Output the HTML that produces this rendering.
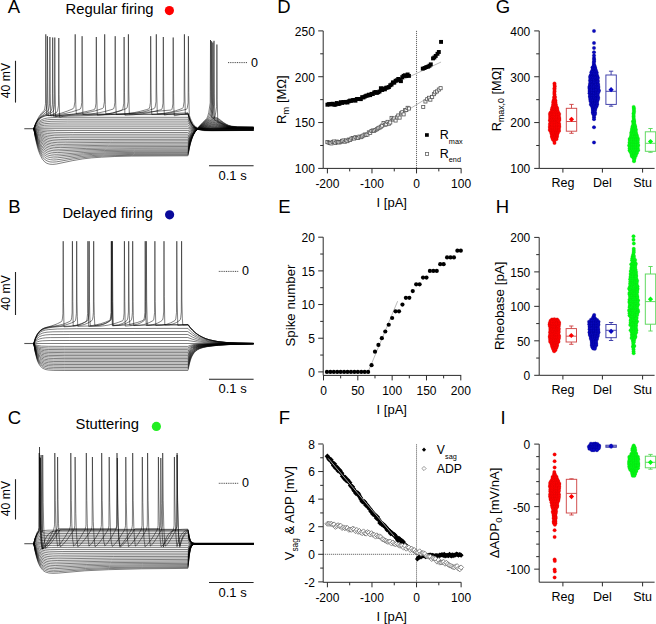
<!DOCTYPE html>
<html><head><meta charset="utf-8"><style>
html,body{margin:0;padding:0;background:#fff;overflow:hidden;}
svg{display:block;font-family:"Liberation Sans", sans-serif;}
</style></head><body>
<svg width="656" height="624" viewBox="0 0 656 624">
<rect width="656" height="624" fill="#fff"/>
<text x="7.8" y="12.8" font-size="18.5" text-anchor="start" fill="#000" >A</text>
<text x="8.25" y="212.6" font-size="18.5" text-anchor="start" fill="#000" >B</text>
<text x="7.8" y="424" font-size="18.5" text-anchor="start" fill="#000" >C</text>
<text x="277.3" y="12.8" font-size="18.5" text-anchor="start" fill="#000" >D</text>
<text x="278.3" y="212.6" font-size="18.5" text-anchor="start" fill="#000" >E</text>
<text x="278.8" y="424" font-size="18.5" text-anchor="start" fill="#000" >F</text>
<text x="495.7" y="12.8" font-size="18.5" text-anchor="start" fill="#000" >G</text>
<text x="495.8" y="212.6" font-size="18.5" text-anchor="start" fill="#000" >H</text>
<text x="500.4" y="424" font-size="18.5" text-anchor="start" fill="#000" >I</text>
<text x="65.6" y="13.7" font-size="14.8" text-anchor="start" fill="#000" >Regular firing</text>
<circle cx="169.4" cy="10.6" r="4.6" fill="#ff0000"/>
<text x="62.4" y="218.4" font-size="14.8" text-anchor="start" fill="#000" >Delayed firing</text>
<circle cx="169.6" cy="214.8" r="4.6" fill="#0a0a9a"/>
<text x="75.6" y="429.2" font-size="14.8" text-anchor="start" fill="#000" >Stuttering</text>
<circle cx="156.4" cy="426.4" r="4.6" fill="#22ee22"/>
<line x1="24.3" y1="128.7" x2="33.8" y2="128.7" stroke="#555" stroke-width="1.1" />
<path d="M33.8 128.7L253.6 128.7" stroke="#000" stroke-width="0.5" fill="none"/>
<path d="M33.8 128.7L37.5 129.5L42 130L55.3 130.5L187.8 130.6L190.6 129.8L193.3 129.3L202.3 128.7L213.6 128.5L253.6 128.7" stroke="#000" stroke-width="0.5" fill="none"/>
<path d="M33.8 128.7L37.3 130.2L41.8 131.3L47.3 131.9L55 132.3L73.8 132.5L187.8 132.5L190.8 130.7L193.8 129.6L197.8 129L203.6 128.5L213.8 128.2L230.1 128.6L253.6 128.6" stroke="#000" stroke-width="0.5" fill="none"/>
<path d="M33.8 128.7L37.3 130.9L39.5 131.9L41.8 132.6L47.3 133.5L55 134.1L72.3 134.3L187.8 134.2L190.8 131.6L192.3 130.7L194.1 130L198.3 129L204.8 128.2L213.8 127.8L230.1 128.5L253.6 128.6" stroke="#000" stroke-width="0.5" fill="none"/>
<path d="M33.8 128.7L35.5 130.4L37.3 131.7L39.5 132.9L41.8 133.8L44.3 134.6L47.3 135.1L54.8 135.8L70.8 136L187.8 136L188.1 135.9L189.3 134.1L190.8 132.5L192.3 131.3L194.1 130.4L196.1 129.6L198.6 128.9L205.8 127.8L210.1 127.4L214.1 127.4L230.1 128.4L253.6 128.5" stroke="#000" stroke-width="0.5" fill="none"/>
<path d="M33.8 128.7L35.5 130.8L37.3 132.4L39.5 134L41.8 135.1L44.3 136L47.3 136.7L54.5 137.5L69.3 137.8L187.8 137.7L188.1 137.5L189.3 135.3L190.8 133.3L192.6 131.7L194.3 130.6L196.6 129.6L199.1 128.8L206.6 127.4L210.6 126.9L214.1 126.9L230.1 128.3L253.6 128.5" stroke="#000" stroke-width="0.5" fill="none"/>
<path d="M33.8 128.7L36 131.8L38.8 134.5L41.8 136.4L45.3 137.7L49.3 138.6L54 139.1L60.3 139.4L69.8 139.5L187.8 139.3L188.1 139.1L189.3 136.5L190.8 134.2L192.6 132.2L194.3 130.9L196.6 129.7L199.3 128.7L203.1 127.7L207.3 126.8L211.1 126.4L214.3 126.3L217.6 126.6L225.6 127.8L230.1 128.2L253.6 128.4" stroke="#000" stroke-width="0.5" fill="none"/>
<path d="M33.8 128.7L36 132.4L38.5 135.2L41.5 137.5L44.8 139L48.5 140.1L53 140.7L58.8 141L67.3 141.1L112.3 140.9L187.8 140.8L188.1 140.7L189.8 136.7L191.1 134.6L192.8 132.5L194.6 131L196.8 129.6L199.6 128.5L203.6 127.3L207.6 126.3L211.1 125.8L214.3 125.8L217.6 126.1L225.6 127.6L230.1 128L236.6 128.2L253.6 128.3" stroke="#000" stroke-width="0.5" fill="none"/>
<path d="M33.8 128.7L36 132.9L38.3 135.9L41 138.4L44.3 140.3L47.8 141.5L52.3 142.3L57.8 142.7L65.3 142.8L110.8 142.4L187.8 142.3L188.1 142.1L189.8 137.6L191.1 135.3L192.8 132.9L194.6 131.2L196.8 129.7L199.6 128.4L203.8 126.9L208.1 125.7L211.6 125.2L215.1 125.2L217.8 125.6L226.1 127.4L231.6 128L253.6 128.2" stroke="#000" stroke-width="0.5" fill="none"/>
<path d="M33.8 128.7L36 133.4L38.3 136.8L41 139.7L44 141.6L47.5 143L51.5 143.8L56.8 144.3L63.8 144.4L109.3 143.9L187.8 143.8L188.1 143.6L189.8 138.5L191.1 136L192.8 133.3L194.6 131.4L196.8 129.7L199.8 128.1L204.3 126.3L208.3 125.1L211.8 124.5L215.3 124.6L218.1 125.1L225.6 127.1L231.6 127.9L237.6 128.1L253.6 128.2" stroke="#000" stroke-width="0.5" fill="none"/>
<path d="M33.8 128.7L35.8 133.5L38 137.4L40.5 140.4L43.5 142.8L46.8 144.3L50.8 145.3L55.5 145.9L62.3 146L108.3 145.3L187.8 145.2L188.1 144.9L189.8 139.4L191.1 136.6L192.8 133.7L194.6 131.6L196.8 129.7L199.8 128L204.6 125.8L208.6 124.4L212.1 123.8L215.3 124L218.1 124.6L225.6 126.8L228.6 127.4L231.6 127.7L237.6 128L253.6 128.1" stroke="#000" stroke-width="0.5" fill="none"/>
<path d="M33.8 128.7L35.8 134L38 138.4L40.5 141.7L43.3 144.1L46.3 145.7L50 146.9L54.5 147.4L60.8 147.6L87.8 146.9L107.3 146.7L187.8 146.5L188.1 146.2L189.8 140.3L191.1 137.2L192.8 134L194.6 131.8L197.1 129.5L200.1 127.6L204.8 125.3L208.8 123.8L212.1 123.1L215.3 123.3L218.1 124L225.6 126.5L228.6 127.2L231.6 127.6L237.6 127.9L253.6 128" stroke="#000" stroke-width="0.5" fill="none"/>
<path d="M33.8 128.7L35.8 134.6L37.8 138.9L40 142.3L42.8 145.2L45.8 147.1L49.3 148.3L53.5 149L59.3 149.3L86.8 148.4L106.3 148L187.8 147.8L188.1 147.5L189.8 141.1L191.1 137.8L192.8 134.4L194.6 132L197.1 129.5L200.1 127.4L205.1 124.7L209.1 123L212.3 122.4L215.3 122.6L218.1 123.3L225.6 126.3L228.1 126.9L231.1 127.4L237.6 127.8L253.6 127.9" stroke="#000" stroke-width="0.5" fill="none"/>
<path d="M33.8 128.7L35.8 135.1L37.8 139.8L40 143.6L42.5 146.5L45.5 148.6L48.8 149.9L53 150.7L58.3 150.9L85.8 149.7L105.3 149.3L134.8 149L187.8 149L188.1 148.7L189.8 141.9L191.1 138.3L192.8 134.7L194.6 132.1L197.1 129.5L200.3 127L205.3 124L209.3 122.3L212.6 121.6L215.6 121.9L218.1 122.7L225.6 126L228.1 126.7L231.1 127.2L237.6 127.6L253.6 127.8" stroke="#000" stroke-width="0.5" fill="none"/>
<path d="M33.8 128.7L35.5 134.9L37.5 140.3L39.8 144.5L42.3 147.7L45 150L48.3 151.5L52.3 152.3L57.3 152.6L84.8 151.1L104.3 150.5L134.3 150.2L187.8 150.1L188.1 149.8L189.8 142.6L191.1 138.8L192.8 135L194.8 131.9L197.3 129.2L200.8 126.4L205.8 123.2L209.6 121.5L212.6 120.8L214.1 120.9L215.6 121.1L218.1 122.1L225.6 125.7L228.1 126.5L231.1 127.1L237.6 127.5L253.6 127.7" stroke="#000" stroke-width="0.5" fill="none"/>
<path d="M33.8 128.7L35.5 135.5L37.5 141.3L39.5 145.4L42 149L44.8 151.5L47.8 153.1L51.5 154L56.3 154.3L61.8 154.1L83.8 152.5L103.8 151.7L133.8 151.3L187.8 151.2L188.1 150.9L189.8 143.3L191.1 139.3L192.8 135.3L194.6 132.3L197.1 129.3L200.6 126.3L205.8 122.6L209.6 120.7L212.6 120L214.1 120.1L215.6 120.4L218.1 121.4L225.6 125.4L228.1 126.3L231.1 126.9L237.6 127.4L253.6 127.6" stroke="#000" stroke-width="0.5" fill="none"/>
<path d="M33.8 128.7L35.3 135.1L36.8 140.2L38.5 144.8L40.5 148.6L42.5 151.3L45 153.5L47.8 155L51 155.8L54.3 156.1L58 156L83.3 153.8L105.3 152.8L134.8 152.4L187.8 152.3L188.1 151.9L189.8 143.9L191.3 139.1L193.1 135L195.3 131.4L197.1 129.3L199.1 127.3L205.6 122.2L209.3 120.1L211.1 119.5L212.8 119.2L213.6 118.8L214.3 117.7L215.1 115.7L215.8 112.2L216.6 106.5L216.9 44.5L217.2 99.8L217.8 122L220.1 122.8L226.1 125.5L228.6 126.3L231.1 126.8L237.1 127.3L253.6 127.5" stroke="#000" stroke-width="0.5" fill="none"/>
<path d="M33.8 128.7L35.3 135.7L36.8 141.2L38.5 146.1L40.5 150.2L42.5 153.1L45 155.4L47.8 156.9L50.8 157.7L53.8 158L57.5 157.8L82.3 155.1L92.8 154.4L104.3 153.9L134.3 153.4L187.8 153.2L188.1 152.8L189.8 144.5L191.1 140.2L192.6 136.3L194.6 132.5L197.3 128.9L201.1 125.3L206.1 121.2L210.3 118.6L211.3 117.1L212.3 113.8L213.7 104.9L214 40.8L214.3 93.1L214.8 120.4L216.3 120.4L217.8 120.8L226.1 125.2L228.6 126.1L231.1 126.6L237.1 127.2L253.6 127.4" stroke="#000" stroke-width="0.5" fill="none"/>
<path d="M33.8 128.7L35.3 136.3L36.8 142.2L38.5 147.5L40.5 151.9L42.5 155L44.8 157.3L47.5 158.9L50.5 159.7L53.3 160L56.8 159.8L81.3 156.5L91.8 155.6L103.3 155L133.3 154.4L187.8 154.2L188.1 153.7L189.3 147.2L190.8 141.4L192.6 136.5L194.3 133L196.6 129.7L199.6 126.4L204.6 121.8L209.1 118.4L210.1 116.7L211.1 113.3L211.8 109.3L212.5 104L212.8 42.5L213.2 97.5L213.3 106.6L213.8 119.5L215.6 119.3L217.6 119.9L226.1 124.8L228.6 125.8L231.1 126.4L237.1 127L253.6 127.3" stroke="#000" stroke-width="0.5" fill="none"/>
<path d="M33.8 128.7L35.3 136.9L36.8 143.4L38.5 149.1L40.3 153.3L42.3 156.7L44.5 159.3L47 160.9L50 161.9L52.8 162.1L56.3 161.9L72.8 159L80.8 157.9L90.8 156.8L102.3 156.1L115.8 155.6L132.8 155.3L187.8 155L188.1 154.6L189.3 147.8L190.8 141.8L192.3 137.3L193.8 134L195.8 130.6L198.6 127.2L203.1 122.6L207.8 118.4L209.1 115.8L210.1 111.9L211.3 103.4L211.6 41.2L211.9 96.6L212.6 118.8L213.6 118.4L214.8 118.2L217.1 118.7L219.1 119.8L223.6 123L226.1 124.5L228.6 125.6L231.1 126.3L233.6 126.6L237.1 126.9L253.6 127.1" stroke="#000" stroke-width="0.5" fill="none"/>
<path d="M33.8 128.7L35.3 137.7L36.8 144.6L38.5 150.8L40.3 155.3L42.3 159L44.5 161.7L47 163.4L49.8 164.2L52.8 164.4L56.5 164L72.8 160.6L82.8 158.9L91.3 157.9L101.3 157.2L114.8 156.5L131.8 156.1L187.8 155.8L188.1 155.4L189.3 148.4L190.6 143.1L192.1 138.2L193.6 134.6L195.6 130.9L197.8 127.8L201.1 124.2L206.8 118.4L207.8 116.1L208.8 112.3L210.2 102.9L210.5 40L210.8 91.5L211.3 118.4L212.6 117.6L213.8 117.2L215.1 117.2L216.3 117.5L218.6 118.7L223.6 122.5L226.1 124.1L228.6 125.3L231.6 126.2L237.6 126.8L253.6 127" stroke="#000" stroke-width="0.5" fill="none"/>
<path d="M33.8 128.7L36.5 127.9L40 127.3L44.5 127L51 126.9L187.8 126.8L190.3 127.7L192.8 128.2L200.1 128.8L253.6 128.9" stroke="#000" stroke-width="0.5" fill="none"/>
<path d="M33.8 128.7L36.5 127.1L40 126L44.5 125.3L51 125L187.8 124.9L190.3 126.6L192.8 127.7L196.1 128.5L200.1 128.9L211.1 129.1L253.6 129.1" stroke="#000" stroke-width="0.5" fill="none"/>
<path d="M33.8 128.7L35 127.4L36.5 126.3L38.3 125.3L40 124.6L44.5 123.7L51 123.2L67.8 123L187.8 123L188.1 123.1L190.3 125.6L192.8 127.3L196.1 128.4L200.1 129L211.1 129.3L253.6 129.2" stroke="#000" stroke-width="0.5" fill="none"/>
<path d="M33.8 128.7L35 127L36.5 125.5L38.3 124.2L40 123.3L42 122.6L44.5 122L51 121.3L67.8 121.1L187.8 121.1L188.1 121.2L190.3 124.6L192.8 126.8L194.3 127.6L196.1 128.3L200.1 129.1L204.6 129.4L211.1 129.6L253.6 129.4" stroke="#000" stroke-width="0.5" fill="none"/>
<path d="M33.8 128.7L35 126.6L36.5 124.7L38.3 123.1L40 121.9L42 121L44.5 120.3L47.5 119.8L51 119.5L67.8 119.2L187.8 119.2L188.1 119.3L189.1 121.5L190.3 123.5L191.6 125.1L192.8 126.3L194.3 127.3L196.1 128.2L200.1 129.2L204.6 129.6L211.1 129.8L253.6 129.6" stroke="#000" stroke-width="0.5" fill="none"/>
<path d="M33.8 128.7L35 126.2L36.5 123.9L38.3 121.9L40 120.6L42 119.5L44.5 118.6L47.5 118L51 117.7L57.3 117.4L67.8 117.3L187.8 117.3L188.1 117.4L189.1 120L190.3 122.5L191.6 124.4L192.8 125.8L194.3 127.1L196.1 128.1L197.8 128.7L200.1 129.3L204.6 129.8L211.1 130L253.6 129.8" stroke="#000" stroke-width="0.5" fill="none"/>
<path d="M33.8 128.7L35.8 123L38.5 117.4L40.8 114L43.9 110.7L44.3 110L44.8 108.3L45.3 105.2L45.5 103.5L45.8 34.3L46 82.2L46.6 115.5L50 115.3L53.8 114.8L57.8 114L61.8 113L67.3 111.1L72.9 108.8L73.7 108L74 107.2L74.9 101.8L75.2 34.3L75.5 91L75.8 104.5L76.3 113.8L83.8 113.2L92.3 111.6L97.3 110.2L102.4 108.5L103.2 107.9L103.5 107.1L104.4 101.8L104.7 34.3L105 91L105.3 104.5L105.8 113.8L108.8 113.6L112.3 113.1L119.3 111.3L126.3 108.6L126.9 108L127.3 106.9L128.1 101.8L128.4 34.3L128.8 91L129.3 113.8L136.3 113.3L144.3 111.7L149.3 110.2L154 108.6L154.8 107.9L155.1 107.2L156 101.8L156.3 34.3L156.7 91L157.3 113.8L163.3 113.4L169.3 112.4L175.8 110.7L182.3 108.5L182.9 107.9L183.3 106.8L184.1 101.8L184.4 34.3L184.8 91L185.3 113.8L187.8 113.2L188.1 113.3L189.2 117.6L190.3 120.7L191.6 123.4L192.8 125.4L194.8 127.6L197.3 129.1L200.1 130.1L203.8 130.6L212.1 130.8L253.6 130.4" stroke="#000" stroke-width="0.5" fill="none"/>
<path d="M33.8 128.7L35.5 123.8L37.3 120.3L41.3 114.8L43 112.9L45.5 110.7L46.2 109.3L46.7 106.9L47.1 103.7L47.4 36.2L47.8 92.9L48.2 115.7L52.2 115.5L56.5 115.1L65.8 113.4L71.8 111.9L78.3 109.8L80.2 109.1L80.8 108.1L81.3 106.2L81.8 102.5L82.1 36.2L82.5 92.1L82.9 114.5L90.8 114L99.3 112.7L104.8 111.5L110.8 109.8L113.3 109L113.8 108.3L114.3 106.6L114.9 102.5L115.2 36.2L115.5 92.1L115.8 105.3L116.3 114.5L124.8 114L134.3 112.6L140.3 111.3L146.3 109.7L148.8 108.9L149.3 108.3L149.8 106.6L150.4 102.5L150.7 36.2L151.1 92.1L151.3 105.3L151.8 114.5L159.8 114.1L168.8 113.1L177.8 111.4L186.5 109.3L186.9 108.9L187.3 107.8L188.1 102.9L188.4 36.2L188.8 92.4L189.3 115.3L191.1 120.1L193.1 123.8L195.3 126.4L197.8 128.1L201.1 129.4L205.3 130.1L210.1 130.4L217.1 130.5L253.6 130.3" stroke="#000" stroke-width="0.5" fill="none"/>
<path d="M33.8 128.7L35.8 123.4L38 119.5L40.3 117.1L44 113.9L48 110.9L48.5 110L49 108L49.6 103.9L49.9 37L50.2 93.3L50.7 115.9L61.3 115.4L73.3 114L80.3 112.8L87.8 111.2L94 109.7L94.8 109.1L95.4 107.3L96 103.2L96.3 37L96.7 92.8L97.3 115.2L104.3 114.6L112.3 113L116.8 111.7L121.8 110L122.3 109.7L122.9 108.6L123.8 103.2L124.1 37L124.5 92.8L124.9 115.2L133.3 114.8L142.8 113.7L152.3 111.9L161.4 109.6L161.8 109.2L162.3 107.7L163 103.2L163.3 37L163.7 92.8L163.8 102.1L164.3 115.1L168.8 114.2L173.8 113.6L179.8 113.1L187.8 112.9L188.1 113.1L189.3 117.5L190.6 120.7L191.8 123.2L193.3 125.4L195.1 127.1L196.8 128.3L199.1 129.3L201.8 129.9L206.1 130.4L212.3 130.5L253.6 130.2" stroke="#000" stroke-width="0.5" fill="none"/>
<path d="M33.8 128.7L36 123.2L37.3 121L38.8 119L40 117.8L41.5 116.6L46 114.2L50.5 111.5L51.3 110.5L51.8 108.6L52.4 104.3L52.7 37.5L53 93.7L53.5 116.3L80.8 115.8L110.3 114.6L141.8 112.6L171.3 110L171.8 109.5L172.3 107.9L172.9 103.9L173.2 37.5L173.6 93.4L173.8 106.7L174.3 115.8L180.3 114.6L187.8 113.9L188.1 114.1L189.3 118.3L190.6 121.4L191.8 123.7L193.1 125.4L194.8 127.2L196.6 128.3L198.6 129.2L201.1 129.8L205.3 130.3L211.3 130.5L253.6 130.2" stroke="#000" stroke-width="0.5" fill="none"/>
<path d="M33.8 128.7L35 125.4L36.3 122.9L37.8 120.6L39.3 118.9L40.8 117.6L42.5 116.6L48 114.4L52.5 112L53.3 111.2L53.8 109.6L54.5 104.7L54.8 37.5L55 84.3L55.6 116.7L59.8 115.7L64.8 114.9L71.3 114.5L79.3 114.2L101.8 114L187.8 114L188.1 114.2L189.1 117.5L190.3 120.7L191.6 123.2L192.8 125L194.3 126.6L196.1 127.9L197.8 128.7L200.1 129.4L204.6 130.1L211.1 130.4L253.6 130.1" stroke="#000" stroke-width="0.5" fill="none"/>
<path d="M33.8 128.7L35.3 125L36.8 122.3L38.5 120.1L40.3 118.4L42 117.3L44.3 116.3L46.8 115.6L50.8 115L53.8 113.9L56.8 112.3L57.6 110.8L58.5 105.2L58.8 38L59.1 94.5L59.6 117.2L63.8 116.2L68.8 115.5L75.3 115L83.3 114.8L105.3 114.6L187.8 114.6L188.1 114.8L189.1 118L190.3 121.1L191.6 123.4L192.8 125.1L194.3 126.7L196.1 127.9L197.8 128.7L200.1 129.4L204.6 130L211.1 130.3L253.6 130.1" stroke="#000" stroke-width="0.5" fill="none"/>
<line x1="24.3" y1="343.5" x2="33.8" y2="343.5" stroke="#555" stroke-width="1.1" />
<path d="M33.8 343.5L253.6 343.5" stroke="#000" stroke-width="0.5" fill="none"/>
<path d="M33.8 343.5L35.3 344.5L37 345.2L39 345.7L41.5 346.1L48.3 346.3L64.8 346.4L187.8 346.4L190.3 345.3L192.6 344.7L195.6 344.3L199.8 344.1L218.6 343.7L253.6 343.5" stroke="#000" stroke-width="0.5" fill="none"/>
<path d="M33.8 343.5L35.3 345.1L37 346.2L39 347L41.5 347.6L48.3 348L64.8 348.1L187.8 348.1L190.3 346.4L192.6 345.5L195.6 344.8L199.8 344.4L218.6 343.8L253.6 343.6" stroke="#000" stroke-width="0.5" fill="none"/>
<path d="M33.8 343.5L35.3 345.6L37 347.1L39 348.2L41.5 348.9L44.3 349.3L48.3 349.5L64.8 349.6L187.8 349.6L190.3 347.3L192.6 346.1L195.6 345.2L199.8 344.7L207.1 344.2L218.6 343.9L253.6 343.6" stroke="#000" stroke-width="0.5" fill="none"/>
<path d="M33.8 343.5L35.3 346.1L37 348L39 349.3L41.5 350.2L44.3 350.7L48.3 351L64.8 351.1L187.8 351.1L188.1 351L189.1 349.6L190.3 348.3L192.6 346.8L195.6 345.7L199.8 344.9L207.1 344.4L218.6 344L253.6 343.6" stroke="#000" stroke-width="0.5" fill="none"/>
<path d="M33.8 343.5L35.3 346.6L37 348.9L39 350.5L41.5 351.5L44.3 352.1L48.3 352.4L64.8 352.6L187.8 352.6L188.1 352.5L189.1 350.8L190.3 349.2L192.6 347.4L195.6 346.1L199.8 345.2L207.1 344.6L218.6 344.1L253.6 343.6" stroke="#000" stroke-width="0.5" fill="none"/>
<path d="M33.8 343.5L35.3 347.1L37 349.8L39 351.6L41.5 352.8L44.3 353.5L48.3 353.9L64.8 354.1L187.8 354.1L188.1 354L189.1 352L190.3 350.2L192.6 348L195.6 346.5L199.8 345.5L207.1 344.8L218.6 344.2L233.6 343.8L253.6 343.6" stroke="#000" stroke-width="0.5" fill="none"/>
<path d="M33.8 343.5L35.3 347.6L37 350.7L39 352.8L41.5 354.2L44.3 354.9L48.3 355.4L64.8 355.6L187.8 355.6L188.1 355.4L189.1 353.2L190.3 351.1L192.6 348.7L194.1 347.7L195.6 347L199.8 345.8L207.1 344.9L218.6 344.3L233.6 343.9L253.6 343.6" stroke="#000" stroke-width="0.5" fill="none"/>
<path d="M33.8 343.5L35.3 348.1L37 351.6L39 353.9L41.5 355.5L44.3 356.3L48.3 356.8L64.8 357.1L187.8 357.1L188.1 356.9L189.1 354.4L190.3 352L191.3 350.6L192.6 349.3L194.1 348.2L195.6 347.4L197.6 346.6L199.8 346.1L207.1 345.1L218.6 344.4L233.6 343.9L253.6 343.7" stroke="#000" stroke-width="0.5" fill="none"/>
<path d="M33.8 343.5L35.3 348.6L37 352.5L39 355.1L40.3 356.1L41.5 356.8L44.3 357.7L48.3 358.3L53.8 358.5L64.8 358.6L187.8 358.6L188.1 358.4L189.1 355.6L190.3 353L191.3 351.4L192.6 350L194.1 348.7L195.6 347.8L197.6 347L199.8 346.4L207.1 345.3L218.6 344.5L233.6 344L253.6 343.7" stroke="#000" stroke-width="0.5" fill="none"/>
<path d="M33.8 343.5L35.3 349.1L37 353.3L39 356.2L40.3 357.3L41.5 358.1L44.3 359.2L48.3 359.8L53.8 360L64.8 360L187.8 360L188.1 359.9L189.1 356.8L190.3 353.9L191.3 352.2L192.6 350.6L194.1 349.2L195.6 348.2L197.6 347.3L199.8 346.6L203.1 346L207.1 345.5L218.6 344.6L233.6 344L253.6 343.7" stroke="#000" stroke-width="0.5" fill="none"/>
<path d="M33.8 343.5L35.3 349.6L37 354.2L39 357.3L40.3 358.6L41.5 359.4L44.3 360.6L48.3 361.2L53.8 361.5L64.8 361.5L187.8 361.5L188.1 361.3L189.1 358L190.3 354.9L191.3 353L192.6 351.3L194.1 349.7L195.6 348.7L197.6 347.7L199.8 346.9L203.1 346.2L207.1 345.6L218.6 344.7L233.6 344.1L253.6 343.7" stroke="#000" stroke-width="0.5" fill="none"/>
<path d="M33.8 343.5L35.3 350.2L37 355.1L39 358.5L40.3 359.8L41.5 360.8L44.3 362L48.3 362.7L53.8 363L64.8 363L187.8 363L188.1 362.8L189.1 359.2L190.3 355.8L191.3 353.8L192.6 351.9L194.1 350.3L195.6 349.1L197.6 348L199.8 347.2L203.1 346.4L207.1 345.8L218.6 344.8L233.6 344.1L253.6 343.7" stroke="#000" stroke-width="0.5" fill="none"/>
<path d="M33.8 343.5L35.3 350.7L37 356L38 358.1L39 359.6L40.3 361.1L41.5 362.1L44.3 363.4L48.3 364.2L53.8 364.4L64.8 364.5L187.8 364.5L188.1 364.3L189.1 360.4L190.3 356.8L191.3 354.6L192.6 352.5L194.1 350.8L195.6 349.5L197.6 348.4L199.8 347.5L203.1 346.7L207.1 346L218.6 344.9L233.6 344.1L253.6 343.7" stroke="#000" stroke-width="0.5" fill="none"/>
<path d="M33.8 343.5L35.3 351.2L37 356.9L38 359.1L39 360.8L40.3 362.3L41.5 363.4L44.3 364.8L48.3 365.6L53.8 365.9L64.8 366L187.8 366L188.1 365.8L189.1 361.6L190.3 357.7L191.3 355.4L192.6 353.2L194.1 351.3L195.6 350L197.6 348.7L199.8 347.8L203.1 346.9L207.1 346.2L218.6 345L233.6 344.2L253.6 343.8" stroke="#000" stroke-width="0.5" fill="none"/>
<path d="M33.8 343.5L35.3 351.7L37 357.8L38 360.1L39 361.9L40.3 363.6L41.5 364.7L42.8 365.5L44.3 366.2L48.3 367.1L53.8 367.4L64.8 367.5L187.8 367.5L188.1 367.3L189.1 362.8L190.3 358.6L191.3 356.2L192.6 353.8L194.1 351.8L195.6 350.4L197.6 349.1L199.8 348.1L203.1 347.1L207.1 346.4L218.6 345.1L233.6 344.2L253.6 343.8" stroke="#000" stroke-width="0.5" fill="none"/>
<path d="M33.8 343.5L35.3 352.2L37 358.7L38 361.2L39 363.1L40.3 364.8L41.5 366L42.8 366.9L44.3 367.6L46 368.2L48.3 368.6L53.8 368.9L64.8 369L187.8 369L188.1 368.7L189.1 364L190.3 359.6L191.3 356.9L192.6 354.5L194.1 352.3L195.6 350.8L197.6 349.4L199.8 348.4L203.1 347.3L207.1 346.5L218.6 345.2L233.6 344.3L253.6 343.8" stroke="#000" stroke-width="0.5" fill="none"/>
<path d="M33.8 343.5L35.3 352.7L37 359.6L38 362.2L39 364.2L40.3 366.1L41.5 367.4L42.8 368.3L44.3 369L46 369.6L48.3 370L53.8 370.4L64.8 370.5L187.8 370.5L188.1 370.2L189.1 365.2L190.3 360.5L191.3 357.7L192.6 355.1L194.1 352.8L195.6 351.2L197.6 349.8L199.8 348.6L203.1 347.6L207.1 346.7L212.3 345.9L218.6 345.3L233.6 344.3L253.6 343.8" stroke="#000" stroke-width="0.5" fill="none"/>
<path d="M33.8 343.5L35.3 342.6L37.3 341.8L39.5 341.2L42.5 340.8L50.3 340.5L69.8 340.5L187.8 340.5L197.3 342L209.1 342.9L225.6 343.3L253.6 343.5" stroke="#000" stroke-width="0.5" fill="none"/>
<path d="M33.8 343.5L35.3 341.6L37.3 340L39.5 338.9L42.5 338.2L45.8 337.8L50.3 337.6L69.8 337.5L187.8 337.5L192.6 339.3L197.3 340.6L202.8 341.6L209.1 342.3L216.6 342.8L225.6 343.2L253.6 343.5" stroke="#000" stroke-width="0.5" fill="none"/>
<path d="M33.8 343.5L35.3 340.7L37.3 338.3L39.5 336.6L42.5 335.5L45.8 334.9L50.3 334.6L69.8 334.5L187.8 334.5L192.6 337.2L197.3 339.1L202.8 340.6L209.1 341.7L216.6 342.5L225.6 343L253.6 343.4" stroke="#000" stroke-width="0.5" fill="none"/>
<path d="M33.8 343.5L34.8 340.9L36 338.5L37.3 336.7L38.8 335.2L40.3 334.2L42.3 333.2L44.5 332.6L47 332.2L52.8 331.8L63.3 331.7L134.8 331.5L187.8 331.5L192.6 335L197.3 337.6L202.8 339.7L209.1 341.1L216.6 342.2L225.6 342.8L237.1 343.2L253.6 343.4" stroke="#000" stroke-width="0.5" fill="none"/>
<path d="M33.8 343.5L34.8 340.4L36 337.5L37.5 335L39 333.3L40.8 331.9L42.8 330.9L45.3 330.1L48.3 329.6L57.3 329L76.3 328.7L156.3 328.4L187.8 328.4L188.1 328.5L190.3 330.9L192.6 332.9L194.8 334.6L197.3 336.1L200.1 337.5L202.8 338.7L209.1 340.5L216.6 341.8L225.6 342.7L237.1 343.2L253.6 343.4" stroke="#000" stroke-width="0.5" fill="none"/>
<path d="M33.8 343.5L35.3 338.6L36.8 335.1L38.5 332.4L40.5 330.3L42.3 329.1L44.3 328.2L53 325.4L57.3 323.8L61.3 321.7L61.7 321.4L62 320.7L62.5 318.1L62.9 313.8L63.2 241.2L63.5 302.2L64 326.8L71.3 326.4L74.8 325.9L77.8 325.2L81.3 324L84.8 322.4L87.3 321L87.7 320.6L88 320L88.5 317.3L88.9 312.9L89.2 241.2L89.5 301.7L89.8 316L90.3 325.9L96.8 325.6L99.8 325.1L102.3 324.4L105.3 323.3L108.3 321.8L109.9 320.8L110.3 320.4L110.6 319.7L111.1 317L111.5 312.7L111.8 241.2L112.2 301.5L112.8 325.7L118.8 325.3L123.8 324.2L126.8 323L129.3 321.7L130.8 320.7L131.2 320.4L131.5 319.7L132 316.9L132.4 312.6L132.7 241.2L133.1 301.4L133.3 315.7L133.8 325.6L140.3 325.2L143.3 324.7L145.8 324L149.3 322.6L152.3 321L153.3 320.4L153.8 319.2L154.6 312.5L154.9 241.2L155.2 301.4L155.8 325.5L161.3 325.3L166.3 324.4L170.8 322.8L174.9 320.6L175.3 320.2L175.8 318.8L176.5 312.5L176.8 241.2L177.2 301.4L177.8 325.5L183.3 325L188.1 324.9L190.3 327.8L192.8 330.5L195.3 332.8L198.1 334.8L201.1 336.6L204.3 338.1L207.8 339.4L211.6 340.4L218.6 341.7L227.6 342.6L238.6 343.1L253.6 343.4" stroke="#000" stroke-width="0.5" fill="none"/>
<path d="M33.8 343.5L35.3 338.5L37 334.6L39.3 331.4L41.8 329.3L44 328.1L47 327.2L57.8 325.5L62.8 324.3L65.8 323.2L69.1 321.7L70.8 320.7L71.2 319.9L71.7 317.3L72.1 313L72.4 241.2L72.8 301.7L73.2 326L79.3 325.6L84.3 324.5L87.3 323.3L89.8 322L91.8 320.6L92.2 320.2L92.5 319.5L93 316.8L93.4 312.4L93.7 241.2L94 301.3L94.3 315.5L94.8 325.4L100.3 325L102.8 324.5L104.8 323.8L107.3 322.6L110.1 320.8L110.9 320.1L111.3 319L112.1 312.2L112.4 241.2L112.8 301.1L113.2 325.2L115.8 325.1L118.3 324.8L120.8 324.1L122.8 323.3L124.8 322.1L126.8 320.6L127.3 319.9L127.8 318L128.4 312.1L128.7 241.2L129.1 301.1L129.3 315.3L129.8 325.1L134.8 324.7L137.3 324.2L139.3 323.5L141.8 322.2L144.4 320.4L144.8 320L145.3 318.4L146 312.1L146.3 241.2L146.7 301L147.3 325.1L150.3 325L152.8 324.6L155.3 324L157.8 323L160.3 321.7L162.3 320.2L162.8 319.2L163.1 317.8L163.7 312L164 241.2L164.3 296.3L164.8 325L169.3 324.8L172.8 324L176.3 322.6L179.7 320.4L180.3 319.5L180.7 317.8L181.3 312L181.6 241.2L181.9 301L182.3 318.1L182.8 325L188.1 324.6L190.3 327.5L192.6 330L195.1 332.4L197.8 334.5L200.6 336.2L203.6 337.7L206.8 339L210.6 340.1L217.8 341.5L226.6 342.5L238.1 343.1L253.6 343.4" stroke="#000" stroke-width="0.5" fill="none"/>
<path d="M33.8 343.5L35.5 338.1L37.3 334.5L39.5 331.5L40.8 330.4L42.3 329.4L45 328.2L48.5 327.4L52.5 326.8L60.8 325.9L65.8 324.9L71.3 323L74.8 321.3L75.3 320.8L75.8 319L76.4 313.3L76.7 241.2L77 301.9L77.3 316.3L77.8 326.3L87.8 326L92.3 325.5L96.3 324.8L100.8 323.7L105.3 322.2L109.4 320.5L109.8 320.2L110.1 319.6L110.6 316.9L111 312.7L111.3 241.2L111.7 301.5L112.3 325.7L121.8 325.4L129.8 324.4L137.3 322.5L141.3 321.1L143.7 320L144.3 318.1L144.9 312.6L145.2 241.2L145.6 301.4L145.8 315.7L146.3 325.5L152.3 325L159.8 324.7L187.8 324.5L188.1 324.6L190.3 327.6L192.6 330.1L194.8 332.2L197.3 334.2L200.1 336L202.8 337.4L205.8 338.7L209.1 339.7L216.6 341.4L225.6 342.4L237.1 343.1L253.6 343.4" stroke="#000" stroke-width="0.5" fill="none"/>
<path d="M33.8 343.5L35.5 338.2L36.5 336.1L37.8 334L39 332.4L40.3 331.2L41.8 330.2L43.5 329.3L47 328.2L52 327.3L59.3 326.6L70.8 326L75.3 325.4L78.3 324.7L81.3 323.7L84.3 322.4L86.4 321.1L87 319.2L87.6 313.5L87.9 241.2L88.2 302.1L88.7 326.5L99.8 326.2L104.3 325.7L108.8 325L113.8 323.8L118.3 322.4L122.5 320.8L122.9 320.5L123.2 319.9L123.7 317.3L124.1 313.1L124.4 241.2L124.8 301.8L125.2 326.1L132.3 325.5L141.8 325.2L187.8 325L188.1 325.1L190.3 328L192.6 330.5L194.8 332.5L197.3 334.5L200.1 336.2L202.8 337.6L205.8 338.8L209.1 339.8L216.6 341.4L225.6 342.5L237.1 343.1L253.6 343.4" stroke="#000" stroke-width="0.5" fill="none"/>
<line x1="24.3" y1="543.7" x2="33.8" y2="543.7" stroke="#555" stroke-width="1.1" />
<path d="M33.8 543.7L253.6 543.7" stroke="#000" stroke-width="0.5" fill="none"/>
<path d="M33.8 543.7L38 544.8L44 545.4L52.8 545.6L72.3 545.7L187.8 545.7L189.1 544.7L190.3 544.2L194.1 543.7L253.6 543.7" stroke="#000" stroke-width="0.5" fill="none"/>
<path d="M33.8 543.7L35.5 544.9L37.8 545.9L40.3 546.6L43.3 547.1L51.3 547.5L67.8 547.6L187.8 547.6L188.1 547.5L189.1 545.7L190.3 544.6L191.8 544.1L194.1 543.8L253.6 543.7" stroke="#000" stroke-width="0.5" fill="none"/>
<path d="M33.8 543.7L35.5 545.5L37.5 546.8L40 548L42.8 548.7L46 549.1L50.3 549.4L64.8 549.6L187.8 549.5L188.1 549.3L189.1 546.7L190.3 545.1L191.8 544.2L194.1 543.8L253.6 543.7" stroke="#000" stroke-width="0.5" fill="none"/>
<path d="M33.8 543.7L35.5 546L37.5 547.9L39.8 549.2L42.5 550.2L45.5 550.8L49.5 551.2L62.8 551.5L187.8 551.3L188.1 551.1L189.1 547.6L190.3 545.5L191.8 544.4L194.1 543.9L199.8 543.7L253.6 543.7" stroke="#000" stroke-width="0.5" fill="none"/>
<path d="M33.8 543.7L35.5 546.6L37.5 548.9L39.8 550.6L42.3 551.7L45.3 552.5L49 553L61.3 553.3L187.8 553.1L188.1 552.8L189.1 548.6L190.3 545.9L191.8 544.6L194.1 543.9L199.8 543.7L253.6 543.7" stroke="#000" stroke-width="0.5" fill="none"/>
<path d="M33.8 543.7L35.5 547.2L37.3 549.7L39.5 551.8L42 553.2L45 554.2L48.5 554.8L53.3 555.1L60.3 555.2L113.8 554.9L187.8 554.8L188.1 554.4L189.1 549.4L190.3 546.3L191.1 545.3L191.8 544.7L192.8 544.3L194.1 544L199.8 543.7L253.6 543.7" stroke="#000" stroke-width="0.5" fill="none"/>
<path d="M33.8 543.7L35.5 547.8L37.3 550.6L39.3 552.9L41.8 554.6L44.5 555.8L48 556.5L52.5 556.9L58.8 557L113.3 556.5L187.8 556.4L188.1 556L189.1 550.3L190.3 546.7L191.1 545.6L191.8 544.9L192.8 544.3L194.1 544L199.8 543.7L253.6 543.7" stroke="#000" stroke-width="0.5" fill="none"/>
<path d="M33.8 543.7L35.5 548.3L37.3 551.6L39.3 554.1L41.8 556.1L44.5 557.4L47.8 558.2L52 558.6L58 558.8L112.3 558.1L187.8 557.9L188.1 557.5L189.1 551.1L190.3 547.1L191.1 545.8L191.8 545L192.8 544.4L194.1 544L196.1 543.8L199.8 543.7L253.6 543.7" stroke="#000" stroke-width="0.5" fill="none"/>
<path d="M33.8 543.7L35.5 548.9L37.3 552.6L39.3 555.4L41.5 557.5L44.3 559L47.5 559.9L51.5 560.3L57.3 560.5L111.8 559.7L187.8 559.4L188.1 558.9L189.1 551.8L190.3 547.4L191.1 546L191.8 545.2L192.8 544.5L194.1 544.1L196.1 543.8L199.8 543.7L253.6 543.7" stroke="#000" stroke-width="0.5" fill="none"/>
<path d="M33.8 543.7L35.3 548.8L37 553L39 556.3L41.3 558.7L43.8 560.3L47 561.5L51 562L56.5 562.2L111.3 561.2L187.8 560.8L188.1 560.3L189.1 552.6L190.3 547.8L191.1 546.2L191.8 545.3L192.8 544.6L194.1 544.1L196.1 543.8L199.8 543.7L253.6 543.7" stroke="#000" stroke-width="0.5" fill="none"/>
<path d="M33.8 543.7L35.3 549.3L37 553.9L39 557.6L41.3 560.2L43.8 561.9L47 563.1L50.8 563.7L56 563.9L87.3 563L110.8 562.6L187.8 562.1L188.1 561.6L189.1 553.3L190.3 548.1L191.1 546.4L191.8 545.4L192.8 544.6L194.1 544.1L196.1 543.8L199.8 543.7L253.6 543.7" stroke="#000" stroke-width="0.5" fill="none"/>
<path d="M33.8 543.7L35.3 549.8L37 554.8L38.8 558.4L41 561.3L43.5 563.3L46.5 564.6L50.3 565.3L55.3 565.5L86.8 564.5L110.3 563.9L142.8 563.6L187.8 563.4L188.1 562.8L189.1 553.9L190.3 548.4L191.1 546.6L191.8 545.5L192.8 544.7L194.1 544.1L196.1 543.8L199.8 543.7L253.6 543.7" stroke="#000" stroke-width="0.5" fill="none"/>
<path d="M33.8 543.7L35.3 550.2L37 555.7L38.8 559.5L41 562.7L43.5 564.9L46.3 566.1L50 566.9L54.8 567.2L86.3 565.8L109.8 565.2L142.8 564.8L187.8 564.5L188.1 563.9L189.1 554.5L190.3 548.6L191.1 546.8L191.8 545.6L192.8 544.7L194.1 544.2L196.1 543.8L199.8 543.7L253.6 543.7" stroke="#000" stroke-width="0.5" fill="none"/>
<path d="M33.8 543.7L35.3 550.7L36.8 555.9L38.5 560.2L40.8 563.8L42 565.2L43.3 566.2L46 567.6L49.5 568.5L54.3 568.7L85.8 567.2L109.3 566.4L142.3 565.9L187.8 565.6L188.1 564.9L189.1 555.1L190.3 548.9L191.1 547L191.8 545.7L192.8 544.8L194.1 544.2L196.1 543.8L199.8 543.7L253.6 543.7" stroke="#000" stroke-width="0.5" fill="none"/>
<path d="M33.8 543.7L35.3 551.2L36.8 556.7L38.5 561.3L40.8 565.1L42 566.6L43.3 567.7L46 569.2L49.3 570L53.8 570.3L59.3 570.1L85.3 568.5L109.3 567.6L142.3 567L187.8 566.6L188.1 565.9L189.1 555.6L190.3 549.1L191.1 547.1L191.8 545.8L192.8 544.8L194.1 544.2L196.1 543.8L199.8 543.7L253.6 543.7" stroke="#000" stroke-width="0.5" fill="none"/>
<path d="M33.8 543.7L35.3 551.7L36.8 557.5L38.5 562.4L40.5 566.1L42.8 568.7L44 569.7L45.5 570.5L48.8 571.5L53.3 571.8L58.8 571.6L85.3 569.7L108.8 568.6L141.8 567.9L187.8 567.5L188.1 566.8L189.1 556.1L190.3 549.4L191.1 547.2L191.8 545.9L192.8 544.9L194.1 544.2L196.1 543.9L199.8 543.7L253.6 543.7" stroke="#000" stroke-width="0.5" fill="none"/>
<path d="M33.8 543.7L35.3 552.2L36.8 558.4L38.5 563.5L40.5 567.4L42.8 570.2L44 571.2L45.5 572L48.8 573L53 573.3L58.3 573.1L84.8 570.8L108.3 569.7L141.8 568.8L187.8 568.4L188.1 567.6L189.1 556.5L190.3 549.6L191.1 547.4L191.8 546L192.8 544.9L194.1 544.3L196.1 543.9L199.8 543.7L253.6 543.7" stroke="#000" stroke-width="0.5" fill="none"/>
<path d="M33.8 543.7L35.5 542.9L37.5 542.5L44.3 542.1L131.8 542L187.8 542L189.3 542.9L190.6 543.4L195.1 543.7L253.6 543.7" stroke="#000" stroke-width="0.5" fill="none"/>
<path d="M33.8 543.7L35.5 542.2L37.5 541.3L40.3 540.7L44 540.4L128.3 540.3L187.8 540.3L188.1 540.4L189.1 541.9L190.3 542.9L191.8 543.4L194.1 543.6L253.6 543.7" stroke="#000" stroke-width="0.5" fill="none"/>
<path d="M33.8 543.7L35.5 541.4L37.5 540.1L40.3 539.2L44.3 538.8L54.5 538.6L132.3 538.6L187.8 538.6L188.1 538.8L189.3 541.4L190.6 542.7L192.3 543.4L195.1 543.6L253.6 543.7" stroke="#000" stroke-width="0.5" fill="none"/>
<path d="M33.8 543.7L35.5 540.7L37.5 538.8L38.8 538.2L40.3 537.7L44.3 537.1L54.3 536.9L129.3 536.9L187.8 536.9L188.1 537.1L189.1 540.2L190.3 542.1L191.8 543.1L194.1 543.5L199.8 543.7L253.6 543.7" stroke="#000" stroke-width="0.5" fill="none"/>
<path d="M33.8 543.7L35.5 539.9L36.5 538.6L37.5 537.6L38.8 536.8L40.3 536.2L44.3 535.5L54.3 535.2L131.8 535.2L187.8 535.2L188.1 535.5L189.3 539.9L190.6 542L191.3 542.6L192.3 543.1L195.1 543.6L253.6 543.7" stroke="#000" stroke-width="0.5" fill="none"/>
<path d="M33.8 543.7L35.5 539.2L36.5 537.6L37.5 536.4L38.8 535.4L40.3 534.7L42 534.2L44.3 533.8L54.5 533.5L137.3 533.5L187.8 533.5L188.1 533.8L189.1 538.4L190.3 541.3L191.1 542.2L192.1 542.9L193.3 543.3L194.8 543.6L200.6 543.7L253.6 543.7" stroke="#000" stroke-width="0.5" fill="none"/>
<path d="M33.8 543.7L35.5 538.4L36.5 536.6L37.5 535.2L38.8 534L40.3 533.2L42 532.6L44.3 532.2L48 531.9L54.3 531.8L131.8 531.8L187.8 531.8L188.1 532.2L189.3 538.4L190.6 541.3L191.3 542.2L192.3 542.9L193.6 543.3L195.1 543.6L200.8 543.7L253.6 543.7" stroke="#000" stroke-width="0.5" fill="none"/>
<path d="M33.8 543.7L34.5 540.7L35.5 537.7L36.5 535.5L37.5 534L38.8 532.7L40.3 531.7L42 531L44.3 530.5L48 530.2L54.5 530.1L135.3 530.1L187.8 530.1L188.1 530.5L189.1 536.6L190.3 540.5L191.1 541.7L192.1 542.6L193.3 543.2L194.8 543.5L200.6 543.7L253.6 543.7" stroke="#000" stroke-width="0.5" fill="none"/>
<path d="M33.8 543.7L35.3 537.6L36.9 532.9L38.3 530.7L38.9 527.6L39.2 453L39.7 502L40.3 529L41 542.1L42 548.8L43.3 547.6L45 545.4L48.8 539.2L53.6 529.7L54.3 526.7L54.5 524.8L54.8 453L55.3 500.5L55.8 523.8L56.4 536.1L57.5 546.1L58.8 545.1L60.8 542.9L64.8 537.4L69.6 529.4L70.3 526.6L70.5 524.8L70.8 453L71.3 500.5L71.8 523.8L72.4 536.1L72.8 540.8L73.3 543.5L73.4 546.1L74.6 545.2L76.3 543.4L80.3 537.7L85.1 529.5L85.8 526.6L86 524.8L86.3 453L86.8 500.5L87.3 523.8L87.9 536.1L88.3 540.8L88.8 543.5L88.9 546.1L90.1 545.2L91.8 543.4L95.8 537.6L100.5 529.5L101.2 526.6L101.4 524.8L101.7 453L102.2 500.5L102.8 526.8L103.3 536.1L103.8 541.5L104.8 545.8L106.3 544.4L107.8 542.6L111.8 536.6L115.8 529.5L116.5 526.6L116.7 524.8L117 453L117.8 516.4L118.6 536.1L118.8 539L119.8 546L121.3 544.8L122.8 543.1L126.8 537.4L131.5 529.5L132.2 526.6L132.4 524.8L132.7 453L133.2 500.5L133.8 526.8L134.3 536.6L135.3 546.1L136.3 545.4L137.8 543.7L141.8 537.9L146.4 529.6L147.1 526.7L147.3 524.8L147.6 453L148.1 500.5L148.8 529.3L149.3 537.9L149.8 542.1L150.2 543.8L150.3 546.1L151.4 545.2L153.3 543L156.8 537.9L161.5 529.5L162.2 526.7L162.4 524.8L162.7 453L163.2 500.5L163.8 526.8L164.3 536.1L164.8 541.5L165.3 546.1L165.8 545.8L167.3 544.2L168.8 542.2L172.3 536.5L175.9 529.6L176.6 526.7L176.8 524.8L177.1 453L177.6 500.5L178.3 529.3L178.8 537.9L179.3 542.1L179.7 543.8L179.8 545.7L181.3 540.2L183.3 535.4L185.3 532.5L186.3 531.6L187.8 530.5L188.1 530.8L189.1 537.3L190.1 540.7L191.3 542.7L192.3 543.4L193.3 543.7L195.6 543.9L208.3 543.7L253.6 543.7" stroke="#000" stroke-width="0.5" fill="none"/>
<path d="M33.8 543.7L34.5 540.4L35.5 537L37.5 532.4L38.9 530.6L39.5 527.6L39.8 457L40.3 503.9L40.8 526.8L41.4 539L42.5 548.8L44 547.7L45.8 545.8L50 540.2L53 535.6L56.4 529.9L57 527.5L57.3 525.3L57.6 457L58 499.5L58.5 523.5L59.2 537L60.2 546.6L61.3 546L62.8 544.7L66.8 540.1L72.8 531.5L73.9 529.8L74.4 528.3L74.8 525.3L75.1 457L75.8 513.6L76.3 530.5L76.7 537L77.7 546.6L78.9 545.9L80.8 544.1L84.8 539.3L87.8 535.1L91.2 529.8L91.8 527.8L92.1 525.3L92.4 457L92.8 496L93.3 521.8L94 537L95 546.6L96.2 545.8L97.8 544.3L99.8 542L102.3 538.7L108 529.8L108.7 527.1L108.9 525.3L109.2 457L109.7 502.7L110.3 528L110.8 537L111.3 542.1L112.3 546.4L113.8 545.1L115.8 542.9L119.8 537.5L124.6 529.8L125.3 527.1L125.5 525.3L125.8 457L126.3 502.7L126.8 525.1L127.4 537L127.8 541.5L128.3 544.1L128.4 546.6L129.6 545.8L131.3 544.1L135.8 538.3L141.1 529.9L141.8 527.1L142 525.3L142.3 457L142.8 502.7L143.3 525.1L143.9 537L144.3 541.5L144.8 544.1L144.9 546.6L145.8 546L147.4 544.5L151.3 539.5L154.3 534.8L157.2 529.9L157.8 527.8L158.1 525.3L158.4 457L158.8 496L159.3 521.8L159.8 534.5L160.3 540.7L160.8 543.7L161 546.6L161.8 546.1L163.3 544.7L165 542.7L169.3 536.5L173.3 529.7L173.9 527.1L174.1 525.3L174.4 457L174.8 496L175.3 521.8L176 537L177 546.6L178.8 540.1L179.8 537.5L181.3 534.7L182.8 532.8L184.3 531.5L185.8 530.6L187.8 529.8L188.1 530.2L189.1 536.8L190.1 540.2L190.8 541.6L191.6 542.5L192.6 543.2L193.6 543.5L197.1 543.8L253.6 543.7" stroke="#000" stroke-width="0.5" fill="none"/>
<path d="M33.8 543.7L34.8 539.6L35.8 536.6L38 532.2L39.5 530.5L40.1 527.6L40.4 458L40.8 497.6L41.3 523.8L42 539.1L42.3 542.9L43 546.7L43 548.9L44.2 548.1L45.8 546.6L49.3 542.4L53.3 536.6L58 528.8L115.8 528.8L116.4 528.6L117 525.8L117.3 458L117.8 503.5L118.3 525.7L118.9 537.5L119.3 542L119.8 544.6L119.9 547.1L120.8 546.6L122.4 545.3L126.3 541.1L130.3 535.7L134.8 529L135.3 528.8L159.8 528.7L160.1 528.2L160.5 525.8L160.8 458L161.3 503.5L161.8 525.7L162.4 537.5L162.8 542L163.3 544.6L163.4 547.1L164.8 541.8L166.3 537.8L167.8 535.1L169.8 532.7L171.8 531.3L174.3 530.3L177.8 529.6L182.3 529.3L187.8 529.1L188.1 529.6L189.1 536.2L190.3 540.3L191.1 541.5L191.8 542.4L192.8 543L194.1 543.4L196.1 543.6L199.8 543.7L253.6 543.7" stroke="#000" stroke-width="0.5" fill="none"/>
<path d="M33.8 543.7L34.8 539.7L36 536.3L37 534.4L38.5 532.2L40.2 530.6L40.8 527.7L41.1 455L41.6 503L42.3 532L42.7 455L43.2 502.7L43.7 526L44.3 538.9L44.8 543.8L45.5 548.3L46.8 547.4L48.3 546L51.8 542L55.8 536.4L60.3 529.3L175.8 529.3L176.2 529.1L176.8 526.3L177.1 455L177.6 502.3L178.3 530.9L178.8 539.4L179.3 543.6L179.7 545.3L179.8 547.2L181.3 541.7L183.3 536.9L185.3 534L186.3 533.1L187.8 532L188.1 532.3L189.1 538.1L190.1 541.1L191.3 542.9L192.3 543.5L193.3 543.8L195.3 543.9L208.1 543.7L253.6 543.7" stroke="#000" stroke-width="0.5" fill="none"/>
<path d="M33.8 543.7L34.8 539.8L35.8 537.1L37.3 533.7L38.6 532.1L39.2 529L39.5 447L40 499.8L40.5 527.3L41.3 542.4L42.3 549.3L43.5 544.1L45 539.7L46.8 536.3L48.8 533.8L51 532.2L53.8 531.2L57.5 530.5L62.8 530.2L187.8 530.1L188.1 530.5L189.1 536.6L190.3 540.5L191.1 541.7L191.8 542.4L192.8 543L194.1 543.4L199.8 543.7L253.6 543.7" stroke="#000" stroke-width="0.5" fill="none"/>
<line x1="193.6" y1="543.7" x2="254" y2="543.7" stroke="#000" stroke-width="2.0" />
<line x1="15.5" y1="60.8" x2="15.5" y2="102.6" stroke="#222" stroke-width="1.1" />
<text transform="translate(9.7,80.6) rotate(-90)" font-size="12.2" text-anchor="middle">40 mV</text>
<line x1="228" y1="62.6" x2="247.5" y2="62.6" stroke="#333" stroke-width="0.9" stroke-dasharray="1,0.8"/>
<text x="254.5" y="66.8" font-size="12.5" text-anchor="middle" fill="#000" >0</text>
<line x1="209" y1="165.7" x2="253.6" y2="165.7" stroke="#222" stroke-width="1.1" />
<text x="232.6" y="179.9" font-size="13" text-anchor="middle" fill="#000" >0.1 s</text>
<line x1="15.5" y1="272" x2="15.5" y2="315" stroke="#222" stroke-width="1.1" />
<text transform="translate(9.7,292.8) rotate(-90)" font-size="12.2" text-anchor="middle">40 mV</text>
<line x1="218.8" y1="271.4" x2="238.8" y2="271.4" stroke="#333" stroke-width="0.9" stroke-dasharray="1,0.8"/>
<text x="245.5" y="274.9" font-size="12.5" text-anchor="middle" fill="#000" >0</text>
<line x1="209" y1="379.2" x2="253.6" y2="379.2" stroke="#222" stroke-width="1.1" />
<text x="232.6" y="393.4" font-size="13" text-anchor="middle" fill="#000" >0.1 s</text>
<line x1="15.5" y1="479.2" x2="15.5" y2="519.5" stroke="#222" stroke-width="1.1" />
<text transform="translate(9.7,498.6) rotate(-90)" font-size="12.2" text-anchor="middle">40 mV</text>
<line x1="218.8" y1="483.3" x2="238.8" y2="483.3" stroke="#333" stroke-width="0.9" stroke-dasharray="1,0.8"/>
<text x="245.5" y="486.8" font-size="12.5" text-anchor="middle" fill="#000" >0</text>
<line x1="209" y1="582.5" x2="253.6" y2="582.5" stroke="#222" stroke-width="1.1" />
<text x="232.6" y="596.7" font-size="13" text-anchor="middle" fill="#000" >0.1 s</text>
<line x1="323.2" y1="30.9" x2="323.2" y2="168.4" stroke="#2a2a2a" stroke-width="1" />
<line x1="318.2" y1="168.4" x2="323.2" y2="168.4" stroke="#2a2a2a" stroke-width="1" />
<text x="314.9" y="173.3" font-size="12" text-anchor="end" fill="#000" >100</text>
<line x1="318.2" y1="122.56" x2="323.2" y2="122.56" stroke="#2a2a2a" stroke-width="1" />
<text x="314.9" y="127.47" font-size="12" text-anchor="end" fill="#000" >150</text>
<line x1="318.2" y1="76.73" x2="323.2" y2="76.73" stroke="#2a2a2a" stroke-width="1" />
<text x="314.9" y="81.63" font-size="12" text-anchor="end" fill="#000" >200</text>
<line x1="318.2" y1="30.9" x2="323.2" y2="30.9" stroke="#2a2a2a" stroke-width="1" />
<text x="314.9" y="35.8" font-size="12" text-anchor="end" fill="#000" >250</text>
<line x1="320.2" y1="145.48" x2="323.2" y2="145.48" stroke="#2a2a2a" stroke-width="1" />
<line x1="320.2" y1="99.65" x2="323.2" y2="99.65" stroke="#2a2a2a" stroke-width="1" />
<line x1="320.2" y1="53.81" x2="323.2" y2="53.81" stroke="#2a2a2a" stroke-width="1" />
<line x1="323.2" y1="168.4" x2="461.2" y2="168.4" stroke="#2a2a2a" stroke-width="1" />
<line x1="327.4" y1="168.4" x2="327.4" y2="173.4" stroke="#2a2a2a" stroke-width="1" />
<text x="327.4" y="187.8" font-size="12" text-anchor="middle" fill="#000" >-200</text>
<line x1="371.97" y1="168.4" x2="371.97" y2="173.4" stroke="#2a2a2a" stroke-width="1" />
<text x="371.97" y="187.8" font-size="12" text-anchor="middle" fill="#000" >-100</text>
<line x1="416.54" y1="168.4" x2="416.54" y2="173.4" stroke="#2a2a2a" stroke-width="1" />
<text x="416.54" y="187.8" font-size="12" text-anchor="middle" fill="#000" >0</text>
<line x1="461.11" y1="168.4" x2="461.11" y2="173.4" stroke="#2a2a2a" stroke-width="1" />
<text x="461.11" y="187.8" font-size="12" text-anchor="middle" fill="#000" >100</text>
<line x1="349.69" y1="168.4" x2="349.69" y2="171.4" stroke="#2a2a2a" stroke-width="1" />
<line x1="394.25" y1="168.4" x2="394.25" y2="171.4" stroke="#2a2a2a" stroke-width="1" />
<line x1="438.82" y1="168.4" x2="438.82" y2="171.4" stroke="#2a2a2a" stroke-width="1" />
<text x="391.8" y="207.4" font-size="13" text-anchor="middle" fill="#000" >I [pA]</text>
<text transform="translate(285.9,99.7) rotate(-90)" font-size="13" text-anchor="middle">R<tspan font-size="9.5" dy="3.5">m</tspan><tspan dy="-3.5"> [MΩ]</tspan></text>
<line x1="416.54" y1="30.9" x2="416.54" y2="168.4" stroke="#222" stroke-width="0.8" stroke-dasharray="1,1"/>
<line x1="371.97" y1="94.15" x2="441.05" y2="62.06" stroke="#aaa" stroke-width="0.8" />
<line x1="387.57" y1="122.56" x2="441.05" y2="89.56" stroke="#aaa" stroke-width="0.8" />
<rect x="325.45" y="102.76" width="3.9" height="3.9" fill="#000"/>
<rect x="326.79" y="102.18" width="3.9" height="3.9" fill="#000"/>
<rect x="328.12" y="102.46" width="3.9" height="3.9" fill="#000"/>
<rect x="329.46" y="101.96" width="3.9" height="3.9" fill="#000"/>
<rect x="330.8" y="101.83" width="3.9" height="3.9" fill="#000"/>
<rect x="332.14" y="102.75" width="3.9" height="3.9" fill="#000"/>
<rect x="333.47" y="102.72" width="3.9" height="3.9" fill="#000"/>
<rect x="334.81" y="101.06" width="3.9" height="3.9" fill="#000"/>
<rect x="336.15" y="101.96" width="3.9" height="3.9" fill="#000"/>
<rect x="337.48" y="101.82" width="3.9" height="3.9" fill="#000"/>
<rect x="338.82" y="100.23" width="3.9" height="3.9" fill="#000"/>
<rect x="340.16" y="100.98" width="3.9" height="3.9" fill="#000"/>
<rect x="341.5" y="100.07" width="3.9" height="3.9" fill="#000"/>
<rect x="342.83" y="100.49" width="3.9" height="3.9" fill="#000"/>
<rect x="344.17" y="99.93" width="3.9" height="3.9" fill="#000"/>
<rect x="345.51" y="100.55" width="3.9" height="3.9" fill="#000"/>
<rect x="346.84" y="99.37" width="3.9" height="3.9" fill="#000"/>
<rect x="348.18" y="98.63" width="3.9" height="3.9" fill="#000"/>
<rect x="349.52" y="98.94" width="3.9" height="3.9" fill="#000"/>
<rect x="350.85" y="98.2" width="3.9" height="3.9" fill="#000"/>
<rect x="352.19" y="97.98" width="3.9" height="3.9" fill="#000"/>
<rect x="353.53" y="98.73" width="3.9" height="3.9" fill="#000"/>
<rect x="354.87" y="97.08" width="3.9" height="3.9" fill="#000"/>
<rect x="356.2" y="96.99" width="3.9" height="3.9" fill="#000"/>
<rect x="357.54" y="97.11" width="3.9" height="3.9" fill="#000"/>
<rect x="358.88" y="97.19" width="3.9" height="3.9" fill="#000"/>
<rect x="360.21" y="95.22" width="3.9" height="3.9" fill="#000"/>
<rect x="361.55" y="95.49" width="3.9" height="3.9" fill="#000"/>
<rect x="362.89" y="94.58" width="3.9" height="3.9" fill="#000"/>
<rect x="364.23" y="93.81" width="3.9" height="3.9" fill="#000"/>
<rect x="365.56" y="93.62" width="3.9" height="3.9" fill="#000"/>
<rect x="366.9" y="92.74" width="3.9" height="3.9" fill="#000"/>
<rect x="368.24" y="93.19" width="3.9" height="3.9" fill="#000"/>
<rect x="369.57" y="91.91" width="3.9" height="3.9" fill="#000"/>
<rect x="370.91" y="92.02" width="3.9" height="3.9" fill="#000"/>
<rect x="372.25" y="90.57" width="3.9" height="3.9" fill="#000"/>
<rect x="373.59" y="90.1" width="3.9" height="3.9" fill="#000"/>
<rect x="374.92" y="90.96" width="3.9" height="3.9" fill="#000"/>
<rect x="376.26" y="90.29" width="3.9" height="3.9" fill="#000"/>
<rect x="377.6" y="89.54" width="3.9" height="3.9" fill="#000"/>
<rect x="378.93" y="86.27" width="3.9" height="3.9" fill="#000"/>
<rect x="380.27" y="88.06" width="3.9" height="3.9" fill="#000"/>
<rect x="381.61" y="86.55" width="3.9" height="3.9" fill="#000"/>
<rect x="382.95" y="87.38" width="3.9" height="3.9" fill="#000"/>
<rect x="384.28" y="85.77" width="3.9" height="3.9" fill="#000"/>
<rect x="385.62" y="85.65" width="3.9" height="3.9" fill="#000"/>
<rect x="386.96" y="85.12" width="3.9" height="3.9" fill="#000"/>
<rect x="388.29" y="83.34" width="3.9" height="3.9" fill="#000"/>
<rect x="389.63" y="82.62" width="3.9" height="3.9" fill="#000"/>
<rect x="390.97" y="80.43" width="3.9" height="3.9" fill="#000"/>
<rect x="392.31" y="80.71" width="3.9" height="3.9" fill="#000"/>
<rect x="393.64" y="78.82" width="3.9" height="3.9" fill="#000"/>
<rect x="394.98" y="78.39" width="3.9" height="3.9" fill="#000"/>
<rect x="396.32" y="77" width="3.9" height="3.9" fill="#000"/>
<rect x="397.65" y="77.68" width="3.9" height="3.9" fill="#000"/>
<rect x="398.99" y="79.2" width="3.9" height="3.9" fill="#000"/>
<rect x="400.33" y="75.2" width="3.9" height="3.9" fill="#000"/>
<rect x="401.66" y="73.9" width="3.9" height="3.9" fill="#000"/>
<rect x="403" y="73.34" width="3.9" height="3.9" fill="#000"/>
<rect x="404.34" y="74.03" width="3.9" height="3.9" fill="#000"/>
<rect x="405.68" y="72.51" width="3.9" height="3.9" fill="#000"/>
<rect x="407.01" y="73.94" width="3.9" height="3.9" fill="#000"/>
<rect x="325.85" y="140.57" width="3.0999999999999996" height="3.0999999999999996" fill="#fff" stroke="#555" stroke-width="0.8"/>
<rect x="327.19" y="141.03" width="3.0999999999999996" height="3.0999999999999996" fill="#fff" stroke="#555" stroke-width="0.8"/>
<rect x="328.52" y="141.52" width="3.0999999999999996" height="3.0999999999999996" fill="#fff" stroke="#555" stroke-width="0.8"/>
<rect x="329.86" y="141.87" width="3.0999999999999996" height="3.0999999999999996" fill="#fff" stroke="#555" stroke-width="0.8"/>
<rect x="331.2" y="140.34" width="3.0999999999999996" height="3.0999999999999996" fill="#fff" stroke="#555" stroke-width="0.8"/>
<rect x="332.54" y="139.98" width="3.0999999999999996" height="3.0999999999999996" fill="#fff" stroke="#555" stroke-width="0.8"/>
<rect x="333.87" y="141.51" width="3.0999999999999996" height="3.0999999999999996" fill="#fff" stroke="#555" stroke-width="0.8"/>
<rect x="335.21" y="140.06" width="3.0999999999999996" height="3.0999999999999996" fill="#fff" stroke="#555" stroke-width="0.8"/>
<rect x="336.55" y="140.61" width="3.0999999999999996" height="3.0999999999999996" fill="#fff" stroke="#555" stroke-width="0.8"/>
<rect x="337.88" y="140.9" width="3.0999999999999996" height="3.0999999999999996" fill="#fff" stroke="#555" stroke-width="0.8"/>
<rect x="339.22" y="140.43" width="3.0999999999999996" height="3.0999999999999996" fill="#fff" stroke="#555" stroke-width="0.8"/>
<rect x="340.56" y="139.34" width="3.0999999999999996" height="3.0999999999999996" fill="#fff" stroke="#555" stroke-width="0.8"/>
<rect x="341.9" y="138.91" width="3.0999999999999996" height="3.0999999999999996" fill="#fff" stroke="#555" stroke-width="0.8"/>
<rect x="343.23" y="140.16" width="3.0999999999999996" height="3.0999999999999996" fill="#fff" stroke="#555" stroke-width="0.8"/>
<rect x="344.57" y="138.84" width="3.0999999999999996" height="3.0999999999999996" fill="#fff" stroke="#555" stroke-width="0.8"/>
<rect x="345.91" y="139.58" width="3.0999999999999996" height="3.0999999999999996" fill="#fff" stroke="#555" stroke-width="0.8"/>
<rect x="347.24" y="138.03" width="3.0999999999999996" height="3.0999999999999996" fill="#fff" stroke="#555" stroke-width="0.8"/>
<rect x="348.58" y="138.4" width="3.0999999999999996" height="3.0999999999999996" fill="#fff" stroke="#555" stroke-width="0.8"/>
<rect x="349.92" y="137.04" width="3.0999999999999996" height="3.0999999999999996" fill="#fff" stroke="#555" stroke-width="0.8"/>
<rect x="351.25" y="136.49" width="3.0999999999999996" height="3.0999999999999996" fill="#fff" stroke="#555" stroke-width="0.8"/>
<rect x="352.59" y="136.97" width="3.0999999999999996" height="3.0999999999999996" fill="#fff" stroke="#555" stroke-width="0.8"/>
<rect x="353.93" y="135.65" width="3.0999999999999996" height="3.0999999999999996" fill="#fff" stroke="#555" stroke-width="0.8"/>
<rect x="355.27" y="136.49" width="3.0999999999999996" height="3.0999999999999996" fill="#fff" stroke="#555" stroke-width="0.8"/>
<rect x="356.6" y="136.47" width="3.0999999999999996" height="3.0999999999999996" fill="#fff" stroke="#555" stroke-width="0.8"/>
<rect x="357.94" y="135.05" width="3.0999999999999996" height="3.0999999999999996" fill="#fff" stroke="#555" stroke-width="0.8"/>
<rect x="359.28" y="135.61" width="3.0999999999999996" height="3.0999999999999996" fill="#fff" stroke="#555" stroke-width="0.8"/>
<rect x="360.61" y="134.81" width="3.0999999999999996" height="3.0999999999999996" fill="#fff" stroke="#555" stroke-width="0.8"/>
<rect x="361.95" y="133.91" width="3.0999999999999996" height="3.0999999999999996" fill="#fff" stroke="#555" stroke-width="0.8"/>
<rect x="363.29" y="133.01" width="3.0999999999999996" height="3.0999999999999996" fill="#fff" stroke="#555" stroke-width="0.8"/>
<rect x="364.63" y="133.29" width="3.0999999999999996" height="3.0999999999999996" fill="#fff" stroke="#555" stroke-width="0.8"/>
<rect x="365.96" y="132.93" width="3.0999999999999996" height="3.0999999999999996" fill="#fff" stroke="#555" stroke-width="0.8"/>
<rect x="367.3" y="130.84" width="3.0999999999999996" height="3.0999999999999996" fill="#fff" stroke="#555" stroke-width="0.8"/>
<rect x="368.64" y="131.25" width="3.0999999999999996" height="3.0999999999999996" fill="#fff" stroke="#555" stroke-width="0.8"/>
<rect x="369.97" y="129.45" width="3.0999999999999996" height="3.0999999999999996" fill="#fff" stroke="#555" stroke-width="0.8"/>
<rect x="371.31" y="128.93" width="3.0999999999999996" height="3.0999999999999996" fill="#fff" stroke="#555" stroke-width="0.8"/>
<rect x="372.65" y="129.23" width="3.0999999999999996" height="3.0999999999999996" fill="#fff" stroke="#555" stroke-width="0.8"/>
<rect x="373.99" y="128.4" width="3.0999999999999996" height="3.0999999999999996" fill="#fff" stroke="#555" stroke-width="0.8"/>
<rect x="375.32" y="127.61" width="3.0999999999999996" height="3.0999999999999996" fill="#fff" stroke="#555" stroke-width="0.8"/>
<rect x="376.66" y="126.68" width="3.0999999999999996" height="3.0999999999999996" fill="#fff" stroke="#555" stroke-width="0.8"/>
<rect x="378" y="126.05" width="3.0999999999999996" height="3.0999999999999996" fill="#fff" stroke="#555" stroke-width="0.8"/>
<rect x="379.33" y="125.16" width="3.0999999999999996" height="3.0999999999999996" fill="#fff" stroke="#555" stroke-width="0.8"/>
<rect x="380.67" y="124.07" width="3.0999999999999996" height="3.0999999999999996" fill="#fff" stroke="#555" stroke-width="0.8"/>
<rect x="382.01" y="121.54" width="3.0999999999999996" height="3.0999999999999996" fill="#fff" stroke="#555" stroke-width="0.8"/>
<rect x="383.35" y="123.13" width="3.0999999999999996" height="3.0999999999999996" fill="#fff" stroke="#555" stroke-width="0.8"/>
<rect x="384.68" y="122.75" width="3.0999999999999996" height="3.0999999999999996" fill="#fff" stroke="#555" stroke-width="0.8"/>
<rect x="386.02" y="120.33" width="3.0999999999999996" height="3.0999999999999996" fill="#fff" stroke="#555" stroke-width="0.8"/>
<rect x="387.36" y="122.15" width="3.0999999999999996" height="3.0999999999999996" fill="#fff" stroke="#555" stroke-width="0.8"/>
<rect x="388.69" y="120.95" width="3.0999999999999996" height="3.0999999999999996" fill="#fff" stroke="#555" stroke-width="0.8"/>
<rect x="390.03" y="116.36" width="3.0999999999999996" height="3.0999999999999996" fill="#fff" stroke="#555" stroke-width="0.8"/>
<rect x="391.37" y="117.98" width="3.0999999999999996" height="3.0999999999999996" fill="#fff" stroke="#555" stroke-width="0.8"/>
<rect x="392.7" y="116.93" width="3.0999999999999996" height="3.0999999999999996" fill="#fff" stroke="#555" stroke-width="0.8"/>
<rect x="394.04" y="118.96" width="3.0999999999999996" height="3.0999999999999996" fill="#fff" stroke="#555" stroke-width="0.8"/>
<rect x="395.38" y="115.81" width="3.0999999999999996" height="3.0999999999999996" fill="#fff" stroke="#555" stroke-width="0.8"/>
<rect x="396.72" y="113.95" width="3.0999999999999996" height="3.0999999999999996" fill="#fff" stroke="#555" stroke-width="0.8"/>
<rect x="398.05" y="116.06" width="3.0999999999999996" height="3.0999999999999996" fill="#fff" stroke="#555" stroke-width="0.8"/>
<rect x="399.39" y="111.8" width="3.0999999999999996" height="3.0999999999999996" fill="#fff" stroke="#555" stroke-width="0.8"/>
<rect x="400.73" y="110.7" width="3.0999999999999996" height="3.0999999999999996" fill="#fff" stroke="#555" stroke-width="0.8"/>
<rect x="402.06" y="112.83" width="3.0999999999999996" height="3.0999999999999996" fill="#fff" stroke="#555" stroke-width="0.8"/>
<rect x="403.4" y="108.68" width="3.0999999999999996" height="3.0999999999999996" fill="#fff" stroke="#555" stroke-width="0.8"/>
<rect x="404.74" y="108.52" width="3.0999999999999996" height="3.0999999999999996" fill="#fff" stroke="#555" stroke-width="0.8"/>
<rect x="406.08" y="106.28" width="3.0999999999999996" height="3.0999999999999996" fill="#fff" stroke="#555" stroke-width="0.8"/>
<rect x="407.41" y="106.99" width="3.0999999999999996" height="3.0999999999999996" fill="#fff" stroke="#555" stroke-width="0.8"/>
<rect x="420.83" y="66.71" width="3.9" height="3.9" fill="#000"/>
<rect x="422.61" y="66.07" width="3.9" height="3.9" fill="#000"/>
<rect x="424.4" y="65.15" width="3.9" height="3.9" fill="#000"/>
<rect x="426.18" y="64.7" width="3.9" height="3.9" fill="#000"/>
<rect x="427.52" y="63.78" width="3.9" height="3.9" fill="#000"/>
<rect x="428.85" y="62.4" width="3.9" height="3.9" fill="#000"/>
<rect x="431.08" y="56.45" width="3.9" height="3.9" fill="#000"/>
<rect x="432.42" y="55.53" width="3.9" height="3.9" fill="#000"/>
<rect x="433.76" y="53.97" width="3.9" height="3.9" fill="#000"/>
<rect x="435.54" y="51.86" width="3.9" height="3.9" fill="#000"/>
<rect x="436.88" y="50.03" width="3.9" height="3.9" fill="#000"/>
<rect x="439.1" y="39.95" width="3.9" height="3.9" fill="#000"/>
<rect x="421.68" y="105.43" width="3.0999999999999996" height="3.0999999999999996" fill="#fff" stroke="#555" stroke-width="0.8"/>
<rect x="423.9" y="99.93" width="3.0999999999999996" height="3.0999999999999996" fill="#fff" stroke="#555" stroke-width="0.8"/>
<rect x="425.69" y="97.64" width="3.0999999999999996" height="3.0999999999999996" fill="#fff" stroke="#555" stroke-width="0.8"/>
<rect x="427.47" y="96.26" width="3.0999999999999996" height="3.0999999999999996" fill="#fff" stroke="#555" stroke-width="0.8"/>
<rect x="428.81" y="98.1" width="3.0999999999999996" height="3.0999999999999996" fill="#fff" stroke="#555" stroke-width="0.8"/>
<rect x="430.59" y="95.35" width="3.0999999999999996" height="3.0999999999999996" fill="#fff" stroke="#555" stroke-width="0.8"/>
<rect x="432.37" y="92.6" width="3.0999999999999996" height="3.0999999999999996" fill="#fff" stroke="#555" stroke-width="0.8"/>
<rect x="433.71" y="90.76" width="3.0999999999999996" height="3.0999999999999996" fill="#fff" stroke="#555" stroke-width="0.8"/>
<rect x="435.49" y="89.85" width="3.0999999999999996" height="3.0999999999999996" fill="#fff" stroke="#555" stroke-width="0.8"/>
<rect x="437.27" y="88.01" width="3.0999999999999996" height="3.0999999999999996" fill="#fff" stroke="#555" stroke-width="0.8"/>
<rect x="439.06" y="86.64" width="3.0999999999999996" height="3.0999999999999996" fill="#fff" stroke="#555" stroke-width="0.8"/>
<rect x="425" y="133.2" width="3.8" height="3.6" fill="#000"/>
<text x="439.7" y="138.9" font-size="12.5" text-anchor="start" fill="#000" >R</text>
<text x="448.8" y="143.7" font-size="7.3" text-anchor="start" fill="#000" >max</text>
<rect x="425.4" y="152.4" width="3.2" height="3.2" fill="#fff" stroke="#666" stroke-width="0.8"/>
<text x="439.7" y="157.6" font-size="12.5" text-anchor="start" fill="#000" >R</text>
<text x="448.8" y="162.3" font-size="7.3" text-anchor="start" fill="#000" >end</text>
<line x1="323.2" y1="237.2" x2="323.2" y2="375.4" stroke="#2a2a2a" stroke-width="1" />
<line x1="318.2" y1="371.9" x2="323.2" y2="371.9" stroke="#2a2a2a" stroke-width="1" />
<text x="314.9" y="376.8" font-size="12" text-anchor="end" fill="#000" >0</text>
<line x1="318.2" y1="338.22" x2="323.2" y2="338.22" stroke="#2a2a2a" stroke-width="1" />
<text x="314.9" y="343.12" font-size="12" text-anchor="end" fill="#000" >5</text>
<line x1="318.2" y1="304.55" x2="323.2" y2="304.55" stroke="#2a2a2a" stroke-width="1" />
<text x="314.9" y="309.45" font-size="12" text-anchor="end" fill="#000" >10</text>
<line x1="318.2" y1="270.88" x2="323.2" y2="270.88" stroke="#2a2a2a" stroke-width="1" />
<text x="314.9" y="275.77" font-size="12" text-anchor="end" fill="#000" >15</text>
<line x1="318.2" y1="237.2" x2="323.2" y2="237.2" stroke="#2a2a2a" stroke-width="1" />
<text x="314.9" y="242.1" font-size="12" text-anchor="end" fill="#000" >20</text>
<line x1="320.2" y1="355.06" x2="323.2" y2="355.06" stroke="#2a2a2a" stroke-width="1" />
<line x1="320.2" y1="321.39" x2="323.2" y2="321.39" stroke="#2a2a2a" stroke-width="1" />
<line x1="320.2" y1="287.71" x2="323.2" y2="287.71" stroke="#2a2a2a" stroke-width="1" />
<line x1="320.2" y1="254.04" x2="323.2" y2="254.04" stroke="#2a2a2a" stroke-width="1" />
<line x1="323.2" y1="375.4" x2="461.2" y2="375.4" stroke="#2a2a2a" stroke-width="1" />
<line x1="323.5" y1="375.4" x2="323.5" y2="380.4" stroke="#2a2a2a" stroke-width="1" />
<text x="323.5" y="394.6" font-size="12" text-anchor="middle" fill="#000" >0</text>
<line x1="357.82" y1="375.4" x2="357.82" y2="380.4" stroke="#2a2a2a" stroke-width="1" />
<text x="357.82" y="394.6" font-size="12" text-anchor="middle" fill="#000" >50</text>
<line x1="392.15" y1="375.4" x2="392.15" y2="380.4" stroke="#2a2a2a" stroke-width="1" />
<text x="392.15" y="394.6" font-size="12" text-anchor="middle" fill="#000" >100</text>
<line x1="426.48" y1="375.4" x2="426.48" y2="380.4" stroke="#2a2a2a" stroke-width="1" />
<text x="426.48" y="394.6" font-size="12" text-anchor="middle" fill="#000" >150</text>
<line x1="460.8" y1="375.4" x2="460.8" y2="380.4" stroke="#2a2a2a" stroke-width="1" />
<text x="460.8" y="394.6" font-size="12" text-anchor="middle" fill="#000" >200</text>
<line x1="340.66" y1="375.4" x2="340.66" y2="378.4" stroke="#2a2a2a" stroke-width="1" />
<line x1="374.99" y1="375.4" x2="374.99" y2="378.4" stroke="#2a2a2a" stroke-width="1" />
<line x1="409.31" y1="375.4" x2="409.31" y2="378.4" stroke="#2a2a2a" stroke-width="1" />
<line x1="443.64" y1="375.4" x2="443.64" y2="378.4" stroke="#2a2a2a" stroke-width="1" />
<text x="391.8" y="414.2" font-size="13" text-anchor="middle" fill="#000" >I [pA]</text>
<text transform="translate(295.4,305.5) rotate(-90)" font-size="13.3" text-anchor="middle">Spike number</text>
<line x1="368.12" y1="371.9" x2="397.64" y2="301.18" stroke="#aaa" stroke-width="0.8" />
<circle cx="326.93" cy="371.9" r="2.1" fill="#000"/>
<circle cx="330.37" cy="371.9" r="2.1" fill="#000"/>
<circle cx="333.8" cy="371.9" r="2.1" fill="#000"/>
<circle cx="337.23" cy="371.9" r="2.1" fill="#000"/>
<circle cx="340.66" cy="371.9" r="2.1" fill="#000"/>
<circle cx="344.1" cy="371.9" r="2.1" fill="#000"/>
<circle cx="347.53" cy="371.9" r="2.1" fill="#000"/>
<circle cx="350.96" cy="371.9" r="2.1" fill="#000"/>
<circle cx="354.39" cy="371.9" r="2.1" fill="#000"/>
<circle cx="357.82" cy="371.9" r="2.1" fill="#000"/>
<circle cx="361.26" cy="371.9" r="2.1" fill="#000"/>
<circle cx="364.69" cy="371.9" r="2.1" fill="#000"/>
<circle cx="368.12" cy="371.9" r="2.1" fill="#000"/>
<circle cx="371.56" cy="365.16" r="2.1" fill="#000"/>
<circle cx="374.99" cy="351.69" r="2.1" fill="#000"/>
<circle cx="378.42" cy="344.96" r="2.1" fill="#000"/>
<circle cx="381.85" cy="338.22" r="2.1" fill="#000"/>
<circle cx="385.28" cy="331.49" r="2.1" fill="#000"/>
<circle cx="388.72" cy="324.75" r="2.1" fill="#000"/>
<circle cx="392.15" cy="318.02" r="2.1" fill="#000"/>
<circle cx="395.58" cy="311.28" r="2.1" fill="#000"/>
<circle cx="399.01" cy="311.28" r="2.1" fill="#000"/>
<circle cx="402.45" cy="304.55" r="2.1" fill="#000"/>
<circle cx="405.88" cy="297.81" r="2.1" fill="#000"/>
<circle cx="409.31" cy="297.81" r="2.1" fill="#000"/>
<circle cx="412.75" cy="291.08" r="2.1" fill="#000"/>
<circle cx="416.18" cy="284.34" r="2.1" fill="#000"/>
<circle cx="419.61" cy="284.34" r="2.1" fill="#000"/>
<circle cx="423.04" cy="277.61" r="2.1" fill="#000"/>
<circle cx="426.48" cy="277.61" r="2.1" fill="#000"/>
<circle cx="429.91" cy="270.88" r="2.1" fill="#000"/>
<circle cx="433.34" cy="270.88" r="2.1" fill="#000"/>
<circle cx="436.77" cy="270.88" r="2.1" fill="#000"/>
<circle cx="440.2" cy="264.14" r="2.1" fill="#000"/>
<circle cx="443.64" cy="264.14" r="2.1" fill="#000"/>
<circle cx="447.07" cy="257.4" r="2.1" fill="#000"/>
<circle cx="450.5" cy="257.4" r="2.1" fill="#000"/>
<circle cx="453.94" cy="257.4" r="2.1" fill="#000"/>
<circle cx="457.37" cy="250.67" r="2.1" fill="#000"/>
<circle cx="460.8" cy="250.67" r="2.1" fill="#000"/>
<line x1="323.2" y1="444.4" x2="323.2" y2="582.3" stroke="#2a2a2a" stroke-width="1" />
<line x1="318.2" y1="581.88" x2="323.2" y2="581.88" stroke="#2a2a2a" stroke-width="1" />
<text x="314.9" y="586.78" font-size="12" text-anchor="end" fill="#000" >-2</text>
<line x1="318.2" y1="554.3" x2="323.2" y2="554.3" stroke="#2a2a2a" stroke-width="1" />
<text x="314.9" y="559.2" font-size="12" text-anchor="end" fill="#000" >0</text>
<line x1="318.2" y1="526.72" x2="323.2" y2="526.72" stroke="#2a2a2a" stroke-width="1" />
<text x="314.9" y="531.62" font-size="12" text-anchor="end" fill="#000" >2</text>
<line x1="318.2" y1="499.14" x2="323.2" y2="499.14" stroke="#2a2a2a" stroke-width="1" />
<text x="314.9" y="504.04" font-size="12" text-anchor="end" fill="#000" >4</text>
<line x1="318.2" y1="471.56" x2="323.2" y2="471.56" stroke="#2a2a2a" stroke-width="1" />
<text x="314.9" y="476.46" font-size="12" text-anchor="end" fill="#000" >6</text>
<line x1="318.2" y1="443.98" x2="323.2" y2="443.98" stroke="#2a2a2a" stroke-width="1" />
<text x="314.9" y="448.88" font-size="12" text-anchor="end" fill="#000" >8</text>
<line x1="320.2" y1="568.09" x2="323.2" y2="568.09" stroke="#2a2a2a" stroke-width="1" />
<line x1="320.2" y1="540.51" x2="323.2" y2="540.51" stroke="#2a2a2a" stroke-width="1" />
<line x1="320.2" y1="512.93" x2="323.2" y2="512.93" stroke="#2a2a2a" stroke-width="1" />
<line x1="320.2" y1="485.35" x2="323.2" y2="485.35" stroke="#2a2a2a" stroke-width="1" />
<line x1="320.2" y1="457.77" x2="323.2" y2="457.77" stroke="#2a2a2a" stroke-width="1" />
<line x1="323.2" y1="582.3" x2="461.2" y2="582.3" stroke="#2a2a2a" stroke-width="1" />
<line x1="327.4" y1="582.3" x2="327.4" y2="587.3" stroke="#2a2a2a" stroke-width="1" />
<text x="327.4" y="601.6" font-size="12" text-anchor="middle" fill="#000" >-200</text>
<line x1="371.97" y1="582.3" x2="371.97" y2="587.3" stroke="#2a2a2a" stroke-width="1" />
<text x="371.97" y="601.6" font-size="12" text-anchor="middle" fill="#000" >-100</text>
<line x1="416.54" y1="582.3" x2="416.54" y2="587.3" stroke="#2a2a2a" stroke-width="1" />
<text x="416.54" y="601.6" font-size="12" text-anchor="middle" fill="#000" >0</text>
<line x1="461.11" y1="582.3" x2="461.11" y2="587.3" stroke="#2a2a2a" stroke-width="1" />
<text x="461.11" y="601.6" font-size="12" text-anchor="middle" fill="#000" >100</text>
<line x1="349.69" y1="582.3" x2="349.69" y2="585.3" stroke="#2a2a2a" stroke-width="1" />
<line x1="394.25" y1="582.3" x2="394.25" y2="585.3" stroke="#2a2a2a" stroke-width="1" />
<line x1="438.82" y1="582.3" x2="438.82" y2="585.3" stroke="#2a2a2a" stroke-width="1" />
<text x="391.8" y="620.8" font-size="13" text-anchor="middle" fill="#000" >I [pA]</text>
<text transform="translate(293.8,513.2) rotate(-90)" font-size="13" text-anchor="middle">V<tspan font-size="8.3" dy="3.8">sag</tspan><tspan dy="-3.8"> &amp; ADP [mV]</tspan></text>
<line x1="416.54" y1="444.4" x2="416.54" y2="582.3" stroke="#222" stroke-width="0.8" stroke-dasharray="1,1"/>
<line x1="323.2" y1="554.3" x2="461.2" y2="554.3" stroke="#222" stroke-width="0.8" stroke-dasharray="1,1"/>
<path d="M327.4 521.29L329.9 523.79L327.4 526.29L324.9 523.79Z" fill="#fff" stroke="#666" stroke-width="0.75"/>
<path d="M328.74 521.27L331.24 523.77L328.74 526.27L326.24 523.77Z" fill="#fff" stroke="#666" stroke-width="0.75"/>
<path d="M330.07 521.4L332.57 523.9L330.07 526.4L327.57 523.9Z" fill="#fff" stroke="#666" stroke-width="0.75"/>
<path d="M331.41 521.31L333.91 523.81L331.41 526.31L328.91 523.81Z" fill="#fff" stroke="#666" stroke-width="0.75"/>
<path d="M332.75 522.08L335.25 524.58L332.75 527.08L330.25 524.58Z" fill="#fff" stroke="#666" stroke-width="0.75"/>
<path d="M334.09 521.9L336.59 524.4L334.09 526.9L331.59 524.4Z" fill="#fff" stroke="#666" stroke-width="0.75"/>
<path d="M335.42 524.38L337.92 526.88L335.42 529.38L332.92 526.88Z" fill="#fff" stroke="#666" stroke-width="0.75"/>
<path d="M336.76 523.57L339.26 526.07L336.76 528.57L334.26 526.07Z" fill="#fff" stroke="#666" stroke-width="0.75"/>
<path d="M338.1 522.65L340.6 525.15L338.1 527.65L335.6 525.15Z" fill="#fff" stroke="#666" stroke-width="0.75"/>
<path d="M339.43 523.65L341.93 526.15L339.43 528.65L336.93 526.15Z" fill="#fff" stroke="#666" stroke-width="0.75"/>
<path d="M340.77 523.29L343.27 525.79L340.77 528.29L338.27 525.79Z" fill="#fff" stroke="#666" stroke-width="0.75"/>
<path d="M342.11 525.52L344.61 528.02L342.11 530.52L339.61 528.02Z" fill="#fff" stroke="#666" stroke-width="0.75"/>
<path d="M343.45 524.9L345.95 527.4L343.45 529.9L340.95 527.4Z" fill="#fff" stroke="#666" stroke-width="0.75"/>
<path d="M344.78 525.72L347.28 528.22L344.78 530.72L342.28 528.22Z" fill="#fff" stroke="#666" stroke-width="0.75"/>
<path d="M346.12 525.3L348.62 527.8L346.12 530.3L343.62 527.8Z" fill="#fff" stroke="#666" stroke-width="0.75"/>
<path d="M347.46 525.56L349.96 528.06L347.46 530.56L344.96 528.06Z" fill="#fff" stroke="#666" stroke-width="0.75"/>
<path d="M348.79 527.29L351.29 529.79L348.79 532.29L346.29 529.79Z" fill="#fff" stroke="#666" stroke-width="0.75"/>
<path d="M350.13 527.13L352.63 529.63L350.13 532.13L347.63 529.63Z" fill="#fff" stroke="#666" stroke-width="0.75"/>
<path d="M351.47 527.31L353.97 529.81L351.47 532.31L348.97 529.81Z" fill="#fff" stroke="#666" stroke-width="0.75"/>
<path d="M352.8 526.07L355.3 528.57L352.8 531.07L350.3 528.57Z" fill="#fff" stroke="#666" stroke-width="0.75"/>
<path d="M354.14 526.78L356.64 529.28L354.14 531.78L351.64 529.28Z" fill="#fff" stroke="#666" stroke-width="0.75"/>
<path d="M355.48 528.62L357.98 531.12L355.48 533.62L352.98 531.12Z" fill="#fff" stroke="#666" stroke-width="0.75"/>
<path d="M356.82 527.38L359.32 529.88L356.82 532.38L354.32 529.88Z" fill="#fff" stroke="#666" stroke-width="0.75"/>
<path d="M358.15 529.35L360.65 531.85L358.15 534.35L355.65 531.85Z" fill="#fff" stroke="#666" stroke-width="0.75"/>
<path d="M359.49 528.5L361.99 531L359.49 533.5L356.99 531Z" fill="#fff" stroke="#666" stroke-width="0.75"/>
<path d="M360.83 530.05L363.33 532.55L360.83 535.05L358.33 532.55Z" fill="#fff" stroke="#666" stroke-width="0.75"/>
<path d="M362.16 530.7L364.66 533.2L362.16 535.7L359.66 533.2Z" fill="#fff" stroke="#666" stroke-width="0.75"/>
<path d="M363.5 528.88L366 531.38L363.5 533.88L361 531.38Z" fill="#fff" stroke="#666" stroke-width="0.75"/>
<path d="M364.84 530.86L367.34 533.36L364.84 535.86L362.34 533.36Z" fill="#fff" stroke="#666" stroke-width="0.75"/>
<path d="M366.18 531.18L368.68 533.68L366.18 536.18L363.68 533.68Z" fill="#fff" stroke="#666" stroke-width="0.75"/>
<path d="M367.51 529.62L370.01 532.12L367.51 534.62L365.01 532.12Z" fill="#fff" stroke="#666" stroke-width="0.75"/>
<path d="M368.85 530.23L371.35 532.73L368.85 535.23L366.35 532.73Z" fill="#fff" stroke="#666" stroke-width="0.75"/>
<path d="M370.19 532.01L372.69 534.51L370.19 537.01L367.69 534.51Z" fill="#fff" stroke="#666" stroke-width="0.75"/>
<path d="M371.52 530.68L374.02 533.18L371.52 535.68L369.02 533.18Z" fill="#fff" stroke="#666" stroke-width="0.75"/>
<path d="M372.86 532.2L375.36 534.7L372.86 537.2L370.36 534.7Z" fill="#fff" stroke="#666" stroke-width="0.75"/>
<path d="M374.2 532.4L376.7 534.9L374.2 537.4L371.7 534.9Z" fill="#fff" stroke="#666" stroke-width="0.75"/>
<path d="M375.54 534.11L378.04 536.61L375.54 539.11L373.04 536.61Z" fill="#fff" stroke="#666" stroke-width="0.75"/>
<path d="M376.87 532.82L379.37 535.32L376.87 537.82L374.37 535.32Z" fill="#fff" stroke="#666" stroke-width="0.75"/>
<path d="M378.21 533.98L380.71 536.48L378.21 538.98L375.71 536.48Z" fill="#fff" stroke="#666" stroke-width="0.75"/>
<path d="M379.55 533.83L382.05 536.33L379.55 538.83L377.05 536.33Z" fill="#fff" stroke="#666" stroke-width="0.75"/>
<path d="M380.88 534.55L383.38 537.05L380.88 539.55L378.38 537.05Z" fill="#fff" stroke="#666" stroke-width="0.75"/>
<path d="M382.22 536.57L384.72 539.07L382.22 541.57L379.72 539.07Z" fill="#fff" stroke="#666" stroke-width="0.75"/>
<path d="M383.56 536.95L386.06 539.45L383.56 541.95L381.06 539.45Z" fill="#fff" stroke="#666" stroke-width="0.75"/>
<path d="M384.9 537.97L387.4 540.47L384.9 542.97L382.4 540.47Z" fill="#fff" stroke="#666" stroke-width="0.75"/>
<path d="M386.23 538.56L388.73 541.06L386.23 543.56L383.73 541.06Z" fill="#fff" stroke="#666" stroke-width="0.75"/>
<path d="M387.57 539.3L390.07 541.8L387.57 544.3L385.07 541.8Z" fill="#fff" stroke="#666" stroke-width="0.75"/>
<path d="M388.91 539.25L391.41 541.75L388.91 544.25L386.41 541.75Z" fill="#fff" stroke="#666" stroke-width="0.75"/>
<path d="M390.24 539.04L392.74 541.54L390.24 544.04L387.74 541.54Z" fill="#fff" stroke="#666" stroke-width="0.75"/>
<path d="M391.58 541.06L394.08 543.56L391.58 546.06L389.08 543.56Z" fill="#fff" stroke="#666" stroke-width="0.75"/>
<path d="M392.92 539.93L395.42 542.43L392.92 544.93L390.42 542.43Z" fill="#fff" stroke="#666" stroke-width="0.75"/>
<path d="M394.25 541.31L396.75 543.81L394.25 546.31L391.75 543.81Z" fill="#fff" stroke="#666" stroke-width="0.75"/>
<path d="M395.59 541.83L398.09 544.33L395.59 546.83L393.09 544.33Z" fill="#fff" stroke="#666" stroke-width="0.75"/>
<path d="M396.93 541.03L399.43 543.53L396.93 546.03L394.43 543.53Z" fill="#fff" stroke="#666" stroke-width="0.75"/>
<path d="M398.27 542.32L400.77 544.82L398.27 547.32L395.77 544.82Z" fill="#fff" stroke="#666" stroke-width="0.75"/>
<path d="M399.6 543.18L402.1 545.68L399.6 548.18L397.1 545.68Z" fill="#fff" stroke="#666" stroke-width="0.75"/>
<path d="M400.94 543.23L403.44 545.73L400.94 548.23L398.44 545.73Z" fill="#fff" stroke="#666" stroke-width="0.75"/>
<path d="M327.4 453.54L330.15 456.29L327.4 459.04L324.65 456.29Z" fill="#000"/>
<path d="M328.29 455.03L331.04 457.78L328.29 460.53L325.54 457.78Z" fill="#000"/>
<path d="M329.18 456.64L331.93 459.39L329.18 462.14L326.43 459.39Z" fill="#000"/>
<path d="M330.07 456.67L332.82 459.42L330.07 462.17L327.32 459.42Z" fill="#000"/>
<path d="M330.97 457.06L333.72 459.81L330.97 462.56L328.22 459.81Z" fill="#000"/>
<path d="M331.86 459.29L334.61 462.04L331.86 464.79L329.11 462.04Z" fill="#000"/>
<path d="M332.75 460.5L335.5 463.25L332.75 466L330 463.25Z" fill="#000"/>
<path d="M333.64 462.71L336.39 465.46L333.64 468.21L330.89 465.46Z" fill="#000"/>
<path d="M334.53 461.2L337.28 463.95L334.53 466.7L331.78 463.95Z" fill="#000"/>
<path d="M335.42 464.99L338.17 467.74L335.42 470.49L332.67 467.74Z" fill="#000"/>
<path d="M336.31 464.69L339.06 467.44L336.31 470.19L333.56 467.44Z" fill="#000"/>
<path d="M337.21 464.75L339.96 467.5L337.21 470.25L334.46 467.5Z" fill="#000"/>
<path d="M338.1 468L340.85 470.75L338.1 473.5L335.35 470.75Z" fill="#000"/>
<path d="M338.99 467.28L341.74 470.03L338.99 472.78L336.24 470.03Z" fill="#000"/>
<path d="M339.88 467.72L342.63 470.47L339.88 473.22L337.13 470.47Z" fill="#000"/>
<path d="M340.77 469.79L343.52 472.54L340.77 475.29L338.02 472.54Z" fill="#000"/>
<path d="M341.66 470.42L344.41 473.17L341.66 475.92L338.91 473.17Z" fill="#000"/>
<path d="M342.55 473.59L345.3 476.34L342.55 479.09L339.8 476.34Z" fill="#000"/>
<path d="M343.45 473.7L346.2 476.45L343.45 479.2L340.7 476.45Z" fill="#000"/>
<path d="M344.34 475.67L347.09 478.42L344.34 481.17L341.59 478.42Z" fill="#000"/>
<path d="M345.23 474.66L347.98 477.41L345.23 480.16L342.48 477.41Z" fill="#000"/>
<path d="M346.12 477.47L348.87 480.22L346.12 482.97L343.37 480.22Z" fill="#000"/>
<path d="M347.01 478.12L349.76 480.87L347.01 483.62L344.26 480.87Z" fill="#000"/>
<path d="M347.9 477.6L350.65 480.35L347.9 483.1L345.15 480.35Z" fill="#000"/>
<path d="M348.79 479.19L351.54 481.94L348.79 484.69L346.04 481.94Z" fill="#000"/>
<path d="M349.69 479.95L352.44 482.7L349.69 485.45L346.94 482.7Z" fill="#000"/>
<path d="M350.58 482.67L353.33 485.42L350.58 488.17L347.83 485.42Z" fill="#000"/>
<path d="M351.47 483.7L354.22 486.45L351.47 489.2L348.72 486.45Z" fill="#000"/>
<path d="M352.36 484.11L355.11 486.86L352.36 489.61L349.61 486.86Z" fill="#000"/>
<path d="M353.25 486.01L356 488.76L353.25 491.51L350.5 488.76Z" fill="#000"/>
<path d="M354.14 487.72L356.89 490.47L354.14 493.22L351.39 490.47Z" fill="#000"/>
<path d="M355.03 488.51L357.78 491.26L355.03 494.01L352.28 491.26Z" fill="#000"/>
<path d="M355.92 490.43L358.67 493.18L355.92 495.93L353.17 493.18Z" fill="#000"/>
<path d="M356.82 490.87L359.57 493.62L356.82 496.37L354.07 493.62Z" fill="#000"/>
<path d="M357.71 490.15L360.46 492.9L357.71 495.65L354.96 492.9Z" fill="#000"/>
<path d="M358.6 491.38L361.35 494.13L358.6 496.88L355.85 494.13Z" fill="#000"/>
<path d="M359.49 493.52L362.24 496.27L359.49 499.02L356.74 496.27Z" fill="#000"/>
<path d="M360.38 495.05L363.13 497.8L360.38 500.55L357.63 497.8Z" fill="#000"/>
<path d="M361.27 496.67L364.02 499.42L361.27 502.17L358.52 499.42Z" fill="#000"/>
<path d="M362.16 498.57L364.91 501.32L362.16 504.07L359.41 501.32Z" fill="#000"/>
<path d="M363.06 499.15L365.81 501.9L363.06 504.65L360.31 501.9Z" fill="#000"/>
<path d="M363.95 498.71L366.7 501.46L363.95 504.21L361.2 501.46Z" fill="#000"/>
<path d="M364.84 499.55L367.59 502.3L364.84 505.05L362.09 502.3Z" fill="#000"/>
<path d="M365.73 502.19L368.48 504.94L365.73 507.69L362.98 504.94Z" fill="#000"/>
<path d="M366.62 502L369.37 504.75L366.62 507.5L363.87 504.75Z" fill="#000"/>
<path d="M367.51 503.14L370.26 505.89L367.51 508.64L364.76 505.89Z" fill="#000"/>
<path d="M368.4 504.49L371.15 507.24L368.4 509.99L365.65 507.24Z" fill="#000"/>
<path d="M369.3 505.68L372.05 508.43L369.3 511.18L366.55 508.43Z" fill="#000"/>
<path d="M370.19 506.5L372.94 509.25L370.19 512L367.44 509.25Z" fill="#000"/>
<path d="M371.08 508.8L373.83 511.55L371.08 514.3L368.33 511.55Z" fill="#000"/>
<path d="M371.97 508.87L374.72 511.62L371.97 514.37L369.22 511.62Z" fill="#000"/>
<path d="M372.86 511.19L375.61 513.94L372.86 516.69L370.11 513.94Z" fill="#000"/>
<path d="M373.75 511.6L376.5 514.35L373.75 517.1L371 514.35Z" fill="#000"/>
<path d="M374.64 511.77L377.39 514.52L374.64 517.27L371.89 514.52Z" fill="#000"/>
<path d="M375.54 513.05L378.29 515.8L375.54 518.55L372.79 515.8Z" fill="#000"/>
<path d="M376.43 515.29L379.18 518.04L376.43 520.79L373.68 518.04Z" fill="#000"/>
<path d="M377.32 514.34L380.07 517.09L377.32 519.84L374.57 517.09Z" fill="#000"/>
<path d="M378.21 516.28L380.96 519.03L378.21 521.78L375.46 519.03Z" fill="#000"/>
<path d="M379.1 517.52L381.85 520.27L379.1 523.02L376.35 520.27Z" fill="#000"/>
<path d="M379.99 520.28L382.74 523.03L379.99 525.78L377.24 523.03Z" fill="#000"/>
<path d="M380.88 519.69L383.63 522.44L380.88 525.19L378.13 522.44Z" fill="#000"/>
<path d="M381.78 521.55L384.53 524.3L381.78 527.05L379.03 524.3Z" fill="#000"/>
<path d="M382.67 521.24L385.42 523.99L382.67 526.74L379.92 523.99Z" fill="#000"/>
<path d="M383.56 522.84L386.31 525.59L383.56 528.34L380.81 525.59Z" fill="#000"/>
<path d="M384.45 522.73L387.2 525.48L384.45 528.23L381.7 525.48Z" fill="#000"/>
<path d="M385.34 524.21L388.09 526.96L385.34 529.71L382.59 526.96Z" fill="#000"/>
<path d="M386.23 524.72L388.98 527.47L386.23 530.22L383.48 527.47Z" fill="#000"/>
<path d="M387.12 527.05L389.87 529.8L387.12 532.55L384.37 529.8Z" fill="#000"/>
<path d="M388.02 527.12L390.77 529.87L388.02 532.62L385.27 529.87Z" fill="#000"/>
<path d="M388.91 527.8L391.66 530.55L388.91 533.3L386.16 530.55Z" fill="#000"/>
<path d="M389.8 528.49L392.55 531.24L389.8 533.99L387.05 531.24Z" fill="#000"/>
<path d="M390.69 530.72L393.44 533.47L390.69 536.22L387.94 533.47Z" fill="#000"/>
<path d="M391.58 530L394.33 532.75L391.58 535.5L388.83 532.75Z" fill="#000"/>
<path d="M392.47 530.69L395.22 533.44L392.47 536.19L389.72 533.44Z" fill="#000"/>
<path d="M393.36 532.02L396.11 534.77L393.36 537.52L390.61 534.77Z" fill="#000"/>
<path d="M394.25 531.92L397 534.67L394.25 537.42L391.5 534.67Z" fill="#000"/>
<path d="M395.15 532.76L397.9 535.51L395.15 538.26L392.4 535.51Z" fill="#000"/>
<path d="M396.04 534.86L398.79 537.61L396.04 540.36L393.29 537.61Z" fill="#000"/>
<path d="M396.93 535.6L399.68 538.35L396.93 541.1L394.18 538.35Z" fill="#000"/>
<path d="M397.82 537.3L400.57 540.05L397.82 542.8L395.07 540.05Z" fill="#000"/>
<path d="M398.71 535.85L401.46 538.6L398.71 541.35L395.96 538.6Z" fill="#000"/>
<path d="M399.6 536.14L402.35 538.89L399.6 541.64L396.85 538.89Z" fill="#000"/>
<path d="M400.49 538.12L403.24 540.87L400.49 543.62L397.74 540.87Z" fill="#000"/>
<path d="M401.39 538.07L404.14 540.82L401.39 543.57L398.64 540.82Z" fill="#000"/>
<path d="M402.28 538.57L405.03 541.32L402.28 544.07L399.53 541.32Z" fill="#000"/>
<path d="M403.17 539.13L405.92 541.88L403.17 544.63L400.42 541.88Z" fill="#000"/>
<path d="M404.06 541.41L405.96 543.31L404.06 545.21L402.16 543.31Z" fill="#000"/>
<path d="M404.95 542.15L406.85 544.05L404.95 545.95L403.05 544.05Z" fill="#000"/>
<path d="M405.84 542.88L407.74 544.78L405.84 546.68L403.94 544.78Z" fill="#000"/>
<path d="M406.73 543.62L408.63 545.52L406.73 547.42L404.83 545.52Z" fill="#000"/>
<path d="M407.63 544.36L409.53 546.26L407.63 548.16L405.73 546.26Z" fill="#000"/>
<path d="M408.52 545.09L410.42 546.99L408.52 548.89L406.62 546.99Z" fill="#000"/>
<path d="M409.41 545.83L411.31 547.73L409.41 549.63L407.51 547.73Z" fill="#000"/>
<path d="M410.3 546.52L412.2 548.42L410.3 550.32L408.4 548.42Z" fill="#000"/>
<path d="M411.19 547.16L413.09 549.06L411.19 550.96L409.29 549.06Z" fill="#000"/>
<path d="M412.08 547.8L413.98 549.7L412.08 551.6L410.18 549.7Z" fill="#000"/>
<path d="M412.97 548.45L414.87 550.35L412.97 552.25L411.07 550.35Z" fill="#000"/>
<path d="M413.87 549.09L415.77 550.99L413.87 552.89L411.97 550.99Z" fill="#000"/>
<path d="M414.76 549.73L416.66 551.63L414.76 553.53L412.86 551.63Z" fill="#000"/>
<path d="M415.65 550.38L417.55 552.28L415.65 554.18L413.75 552.28Z" fill="#000"/>
<path d="M416.54 551.02L418.44 552.92L416.54 554.82L414.64 552.92Z" fill="#000"/>
<path d="M417.43 556.62L419.93 559.12L417.43 561.62L414.93 559.12Z" fill="#000"/>
<path d="M418.32 554.91L420.82 557.41L418.32 559.91L415.82 557.41Z" fill="#000"/>
<path d="M419.21 554.84L421.71 557.34L419.21 559.84L416.71 557.34Z" fill="#000"/>
<path d="M420.11 554.29L422.61 556.79L420.11 559.29L417.61 556.79Z" fill="#000"/>
<path d="M421 554.44L423.5 556.94L421 559.44L418.5 556.94Z" fill="#000"/>
<path d="M421.89 553.77L424.39 556.27L421.89 558.77L419.39 556.27Z" fill="#000"/>
<path d="M422.78 553.25L425.28 555.75L422.78 558.25L420.28 555.75Z" fill="#000"/>
<path d="M423.67 553.32L426.17 555.82L423.67 558.32L421.17 555.82Z" fill="#000"/>
<path d="M424.56 552.99L427.06 555.49L424.56 557.99L422.06 555.49Z" fill="#000"/>
<path d="M425.45 554.18L427.95 556.68L425.45 559.18L422.95 556.68Z" fill="#000"/>
<path d="M426.35 553.81L428.85 556.31L426.35 558.81L423.85 556.31Z" fill="#000"/>
<path d="M427.24 553.16L429.74 555.66L427.24 558.16L424.74 555.66Z" fill="#000"/>
<path d="M428.13 552.67L430.63 555.17L428.13 557.67L425.63 555.17Z" fill="#000"/>
<path d="M429.02 553.43L431.52 555.93L429.02 558.43L426.52 555.93Z" fill="#000"/>
<path d="M429.91 552.47L432.41 554.97L429.91 557.47L427.41 554.97Z" fill="#000"/>
<path d="M430.8 552.52L433.3 555.02L430.8 557.52L428.3 555.02Z" fill="#000"/>
<path d="M431.69 553.62L434.19 556.12L431.69 558.62L429.19 556.12Z" fill="#000"/>
<path d="M432.59 552.75L435.09 555.25L432.59 557.75L430.09 555.25Z" fill="#000"/>
<path d="M433.48 553.19L435.98 555.69L433.48 558.19L430.98 555.69Z" fill="#000"/>
<path d="M434.37 553.5L436.87 556L434.37 558.5L431.87 556Z" fill="#000"/>
<path d="M435.26 553.32L437.76 555.82L435.26 558.32L432.76 555.82Z" fill="#000"/>
<path d="M436.15 552.95L438.65 555.45L436.15 557.95L433.65 555.45Z" fill="#000"/>
<path d="M437.04 553.19L439.54 555.69L437.04 558.19L434.54 555.69Z" fill="#000"/>
<path d="M437.93 553.16L440.43 555.66L437.93 558.16L435.43 555.66Z" fill="#000"/>
<path d="M438.82 553.45L441.32 555.95L438.82 558.45L436.32 555.95Z" fill="#000"/>
<path d="M439.72 552.61L442.22 555.11L439.72 557.61L437.22 555.11Z" fill="#000"/>
<path d="M440.61 552.77L443.11 555.27L440.61 557.77L438.11 555.27Z" fill="#000"/>
<path d="M441.5 552.31L444 554.81L441.5 557.31L439 554.81Z" fill="#000"/>
<path d="M442.39 552.35L444.89 554.85L442.39 557.35L439.89 554.85Z" fill="#000"/>
<path d="M443.28 553.02L445.78 555.52L443.28 558.02L440.78 555.52Z" fill="#000"/>
<path d="M444.17 551.73L446.67 554.23L444.17 556.73L441.67 554.23Z" fill="#000"/>
<path d="M445.06 553.47L447.56 555.97L445.06 558.47L442.56 555.97Z" fill="#000"/>
<path d="M445.96 552.69L448.46 555.19L445.96 557.69L443.46 555.19Z" fill="#000"/>
<path d="M446.85 552.93L449.35 555.43L446.85 557.93L444.35 555.43Z" fill="#000"/>
<path d="M447.74 552.68L450.24 555.18L447.74 557.68L445.24 555.18Z" fill="#000"/>
<path d="M448.63 553.24L451.13 555.74L448.63 558.24L446.13 555.74Z" fill="#000"/>
<path d="M449.52 551.86L452.02 554.36L449.52 556.86L447.02 554.36Z" fill="#000"/>
<path d="M450.41 552.74L452.91 555.24L450.41 557.74L447.91 555.24Z" fill="#000"/>
<path d="M451.3 553.39L453.8 555.89L451.3 558.39L448.8 555.89Z" fill="#000"/>
<path d="M452.2 552.28L454.7 554.78L452.2 557.28L449.7 554.78Z" fill="#000"/>
<path d="M453.09 553.28L455.59 555.78L453.09 558.28L450.59 555.78Z" fill="#000"/>
<path d="M453.98 552.41L456.48 554.91L453.98 557.41L451.48 554.91Z" fill="#000"/>
<path d="M454.87 552.8L457.37 555.3L454.87 557.8L452.37 555.3Z" fill="#000"/>
<path d="M455.76 552.34L458.26 554.84L455.76 557.34L453.26 554.84Z" fill="#000"/>
<path d="M456.65 551.61L459.15 554.11L456.65 556.61L454.15 554.11Z" fill="#000"/>
<path d="M457.54 551.88L460.04 554.38L457.54 556.88L455.04 554.38Z" fill="#000"/>
<path d="M458.44 552.65L460.94 555.15L458.44 557.65L455.94 555.15Z" fill="#000"/>
<path d="M459.33 551.89L461.83 554.39L459.33 556.89L456.83 554.39Z" fill="#000"/>
<path d="M460.22 552.22L462.72 554.72L460.22 557.22L457.72 554.72Z" fill="#000"/>
<path d="M461.11 552.74L463.61 555.24L461.11 557.74L458.61 555.24Z" fill="#000"/>
<line x1="328.29" y1="458.46" x2="394.25" y2="536.37" stroke="#e0e0e0" stroke-width="0.7" />
<path d="M402.28 543.13L404.78 545.63L402.28 548.13L399.78 545.63Z" fill="#fff" stroke="#666" stroke-width="0.75"/>
<path d="M403.61 545.19L406.11 547.69L403.61 550.19L401.11 547.69Z" fill="#fff" stroke="#666" stroke-width="0.75"/>
<path d="M404.95 543.37L407.45 545.87L404.95 548.37L402.45 545.87Z" fill="#fff" stroke="#666" stroke-width="0.75"/>
<path d="M406.29 546.19L408.79 548.69L406.29 551.19L403.79 548.69Z" fill="#fff" stroke="#666" stroke-width="0.75"/>
<path d="M407.63 544.84L410.13 547.34L407.63 549.84L405.13 547.34Z" fill="#fff" stroke="#666" stroke-width="0.75"/>
<path d="M408.96 545.06L411.46 547.56L408.96 550.06L406.46 547.56Z" fill="#fff" stroke="#666" stroke-width="0.75"/>
<path d="M410.3 547.56L412.8 550.06L410.3 552.56L407.8 550.06Z" fill="#fff" stroke="#666" stroke-width="0.75"/>
<path d="M411.64 546.11L414.14 548.61L411.64 551.11L409.14 548.61Z" fill="#fff" stroke="#666" stroke-width="0.75"/>
<path d="M412.97 547.61L415.47 550.11L412.97 552.61L410.47 550.11Z" fill="#fff" stroke="#666" stroke-width="0.75"/>
<path d="M414.31 547.54L416.81 550.04L414.31 552.54L411.81 550.04Z" fill="#fff" stroke="#666" stroke-width="0.75"/>
<path d="M415.65 549.41L418.15 551.91L415.65 554.41L413.15 551.91Z" fill="#fff" stroke="#666" stroke-width="0.75"/>
<path d="M416.99 549.82L419.49 552.32L416.99 554.82L414.49 552.32Z" fill="#fff" stroke="#666" stroke-width="0.75"/>
<path d="M418.32 550.11L420.82 552.61L418.32 555.11L415.82 552.61Z" fill="#fff" stroke="#666" stroke-width="0.75"/>
<path d="M419.66 548.81L422.16 551.31L419.66 553.81L417.16 551.31Z" fill="#fff" stroke="#666" stroke-width="0.75"/>
<path d="M421 551.31L423.5 553.81L421 556.31L418.5 553.81Z" fill="#fff" stroke="#666" stroke-width="0.75"/>
<path d="M422.33 550.54L424.83 553.04L422.33 555.54L419.83 553.04Z" fill="#fff" stroke="#666" stroke-width="0.75"/>
<path d="M423.67 550.73L426.17 553.23L423.67 555.73L421.17 553.23Z" fill="#fff" stroke="#666" stroke-width="0.75"/>
<path d="M425.01 551.32L427.51 553.82L425.01 556.32L422.51 553.82Z" fill="#fff" stroke="#666" stroke-width="0.75"/>
<path d="M426.35 553.43L428.85 555.93L426.35 558.43L423.85 555.93Z" fill="#fff" stroke="#666" stroke-width="0.75"/>
<path d="M427.68 554.02L430.18 556.52L427.68 559.02L425.18 556.52Z" fill="#fff" stroke="#666" stroke-width="0.75"/>
<path d="M429.02 554.22L431.52 556.72L429.02 559.22L426.52 556.72Z" fill="#fff" stroke="#666" stroke-width="0.75"/>
<path d="M430.36 554.22L432.86 556.72L430.36 559.22L427.86 556.72Z" fill="#fff" stroke="#666" stroke-width="0.75"/>
<path d="M431.69 556.5L434.19 559L431.69 561.5L429.19 559Z" fill="#fff" stroke="#666" stroke-width="0.75"/>
<path d="M433.03 555.53L435.53 558.03L433.03 560.53L430.53 558.03Z" fill="#fff" stroke="#666" stroke-width="0.75"/>
<path d="M434.37 556.03L436.87 558.53L434.37 561.03L431.87 558.53Z" fill="#fff" stroke="#666" stroke-width="0.75"/>
<path d="M435.71 556.49L438.21 558.99L435.71 561.49L433.21 558.99Z" fill="#fff" stroke="#666" stroke-width="0.75"/>
<path d="M437.04 559.16L439.54 561.66L437.04 564.16L434.54 561.66Z" fill="#fff" stroke="#666" stroke-width="0.75"/>
<path d="M438.38 557.52L440.88 560.02L438.38 562.52L435.88 560.02Z" fill="#fff" stroke="#666" stroke-width="0.75"/>
<path d="M439.72 560.14L442.22 562.64L439.72 565.14L437.22 562.64Z" fill="#fff" stroke="#666" stroke-width="0.75"/>
<path d="M441.05 559.96L443.55 562.46L441.05 564.96L438.55 562.46Z" fill="#fff" stroke="#666" stroke-width="0.75"/>
<path d="M442.39 559.73L444.89 562.23L442.39 564.73L439.89 562.23Z" fill="#fff" stroke="#666" stroke-width="0.75"/>
<path d="M443.73 559.4L446.23 561.9L443.73 564.4L441.23 561.9Z" fill="#fff" stroke="#666" stroke-width="0.75"/>
<path d="M445.06 561.28L447.56 563.78L445.06 566.28L442.56 563.78Z" fill="#fff" stroke="#666" stroke-width="0.75"/>
<path d="M446.4 560.26L448.9 562.76L446.4 565.26L443.9 562.76Z" fill="#fff" stroke="#666" stroke-width="0.75"/>
<path d="M447.74 561.64L450.24 564.14L447.74 566.64L445.24 564.14Z" fill="#fff" stroke="#666" stroke-width="0.75"/>
<path d="M449.08 562.66L451.58 565.16L449.08 567.66L446.58 565.16Z" fill="#fff" stroke="#666" stroke-width="0.75"/>
<path d="M450.41 563.09L452.91 565.59L450.41 568.09L447.91 565.59Z" fill="#fff" stroke="#666" stroke-width="0.75"/>
<path d="M451.75 563.87L454.25 566.37L451.75 568.87L449.25 566.37Z" fill="#fff" stroke="#666" stroke-width="0.75"/>
<path d="M453.09 564.56L455.59 567.06L453.09 569.56L450.59 567.06Z" fill="#fff" stroke="#666" stroke-width="0.75"/>
<path d="M454.42 564.82L456.92 567.32L454.42 569.82L451.92 567.32Z" fill="#fff" stroke="#666" stroke-width="0.75"/>
<path d="M455.76 563.92L458.26 566.42L455.76 568.92L453.26 566.42Z" fill="#fff" stroke="#666" stroke-width="0.75"/>
<path d="M457.1 563.59L459.6 566.09L457.1 568.59L454.6 566.09Z" fill="#fff" stroke="#666" stroke-width="0.75"/>
<path d="M458.44 566.1L460.94 568.6L458.44 571.1L455.94 568.6Z" fill="#fff" stroke="#666" stroke-width="0.75"/>
<path d="M459.77 566.82L462.27 569.32L459.77 571.82L457.27 569.32Z" fill="#fff" stroke="#666" stroke-width="0.75"/>
<path d="M461.11 564.93L463.61 567.43L461.11 569.93L458.61 567.43Z" fill="#fff" stroke="#666" stroke-width="0.75"/>
<path d="M424 447.6L426.1 449.7L424 451.8L421.9 449.7Z" fill="#000"/>
<text x="436.8" y="454" font-size="12.2" text-anchor="start" fill="#000" >V</text>
<text x="445" y="458.6" font-size="7.3" text-anchor="start" fill="#000" >sag</text>
<path d="M424 466.4L426.1 468.5L424 470.6L421.9 468.5Z" fill="#fff" stroke="#555" stroke-width="0.6"/>
<text x="436.8" y="472.8" font-size="12.2" text-anchor="start" fill="#000" >ADP</text>
<line x1="539.2" y1="30.9" x2="539.2" y2="168.4" stroke="#2a2a2a" stroke-width="1" />
<line x1="534.2" y1="168.4" x2="539.2" y2="168.4" stroke="#2a2a2a" stroke-width="1" />
<text x="530.3" y="173.3" font-size="12" text-anchor="end" fill="#000" >100</text>
<line x1="534.2" y1="122.57" x2="539.2" y2="122.57" stroke="#2a2a2a" stroke-width="1" />
<text x="530.3" y="127.47" font-size="12" text-anchor="end" fill="#000" >200</text>
<line x1="534.2" y1="76.74" x2="539.2" y2="76.74" stroke="#2a2a2a" stroke-width="1" />
<text x="530.3" y="81.64" font-size="12" text-anchor="end" fill="#000" >300</text>
<line x1="534.2" y1="30.91" x2="539.2" y2="30.91" stroke="#2a2a2a" stroke-width="1" />
<text x="530.3" y="35.81" font-size="12" text-anchor="end" fill="#000" >400</text>
<line x1="536.2" y1="145.49" x2="539.2" y2="145.49" stroke="#2a2a2a" stroke-width="1" />
<line x1="536.2" y1="99.66" x2="539.2" y2="99.66" stroke="#2a2a2a" stroke-width="1" />
<line x1="536.2" y1="53.83" x2="539.2" y2="53.83" stroke="#2a2a2a" stroke-width="1" />
<line x1="539.2" y1="168.4" x2="654.6" y2="168.4" stroke="#2a2a2a" stroke-width="1" />
<line x1="562.9" y1="168.4" x2="562.9" y2="172.6" stroke="#2a2a2a" stroke-width="1" />
<text x="562.9" y="186.6" font-size="12.5" text-anchor="middle" fill="#000" >Reg</text>
<line x1="602.4" y1="168.4" x2="602.4" y2="172.6" stroke="#2a2a2a" stroke-width="1" />
<text x="602.4" y="186.6" font-size="12.5" text-anchor="middle" fill="#000" >Del</text>
<line x1="642.6" y1="168.4" x2="642.6" y2="172.6" stroke="#2a2a2a" stroke-width="1" />
<text x="642.6" y="186.6" font-size="12.5" text-anchor="middle" fill="#000" >Stu</text>
<text transform="translate(500.9,99.2) rotate(-90)" font-size="12.8" text-anchor="middle">R<tspan font-size="8.8" dy="3.5">max,0</tspan><tspan dy="-3.5"> [MΩ]</tspan></text>
<g fill="#ff0000" stroke="#c00000" stroke-width="0.35" stroke-opacity="0.6"><circle cx="554.47" cy="83.4" r="1.75"/><circle cx="554.54" cy="85" r="1.75"/><circle cx="554.75" cy="86.6" r="1.75"/><circle cx="554.48" cy="88.2" r="1.75"/><circle cx="554.5" cy="89.8" r="1.75"/><circle cx="554.55" cy="91.4" r="1.75"/><circle cx="554.31" cy="93" r="1.75"/><circle cx="554.51" cy="94.6" r="1.75"/><circle cx="554.58" cy="96.2" r="1.75"/><circle cx="554.14" cy="97.56" r="1.75"/><circle cx="554.92" cy="97.55" r="1.75"/><circle cx="554.1" cy="99.52" r="1.75"/><circle cx="554.81" cy="99.69" r="1.75"/><circle cx="553.42" cy="101.07" r="1.75"/><circle cx="555.46" cy="100.71" r="1.75"/><circle cx="553.22" cy="102.41" r="1.75"/><circle cx="555.36" cy="102.32" r="1.75"/><circle cx="553.27" cy="104.41" r="1.75"/><circle cx="555.71" cy="104.28" r="1.75"/><circle cx="553.13" cy="105.77" r="1.75"/><circle cx="555.84" cy="106.1" r="1.75"/><circle cx="552.41" cy="107.52" r="1.75"/><circle cx="554.39" cy="107.24" r="1.75"/><circle cx="556.67" cy="107.14" r="1.75"/><circle cx="551.95" cy="109.21" r="1.75"/><circle cx="554.43" cy="109.27" r="1.75"/><circle cx="557.2" cy="108.7" r="1.75"/><circle cx="552.05" cy="110.58" r="1.75"/><circle cx="553.89" cy="110.54" r="1.75"/><circle cx="555.14" cy="110.68" r="1.75"/><circle cx="557.36" cy="110.46" r="1.75"/><circle cx="550.6" cy="112.48" r="1.75"/><circle cx="552.75" cy="111.97" r="1.75"/><circle cx="554.35" cy="111.96" r="1.75"/><circle cx="556.14" cy="112.38" r="1.75"/><circle cx="558.11" cy="112.24" r="1.75"/><circle cx="549.96" cy="113.94" r="1.75"/><circle cx="552.1" cy="113.89" r="1.75"/><circle cx="554.27" cy="113.75" r="1.75"/><circle cx="556.5" cy="113.66" r="1.75"/><circle cx="559.14" cy="113.98" r="1.75"/><circle cx="550.51" cy="115.23" r="1.75"/><circle cx="552.32" cy="115.61" r="1.75"/><circle cx="554.59" cy="115.16" r="1.75"/><circle cx="556.91" cy="115.23" r="1.75"/><circle cx="558.58" cy="115.56" r="1.75"/><circle cx="550.13" cy="116.74" r="1.75"/><circle cx="552.13" cy="117.05" r="1.75"/><circle cx="554.35" cy="117.06" r="1.75"/><circle cx="556.55" cy="116.97" r="1.75"/><circle cx="559.02" cy="116.99" r="1.75"/><circle cx="550.25" cy="118.41" r="1.75"/><circle cx="552.06" cy="118.85" r="1.75"/><circle cx="554.69" cy="118.45" r="1.75"/><circle cx="556.55" cy="118.74" r="1.75"/><circle cx="559.23" cy="118.42" r="1.75"/><circle cx="549.92" cy="120.26" r="1.75"/><circle cx="551.57" cy="119.96" r="1.75"/><circle cx="553.26" cy="120.48" r="1.75"/><circle cx="555.3" cy="120.32" r="1.75"/><circle cx="557.24" cy="120.39" r="1.75"/><circle cx="559.36" cy="120.08" r="1.75"/><circle cx="550.52" cy="121.54" r="1.75"/><circle cx="552.28" cy="121.84" r="1.75"/><circle cx="554.71" cy="121.87" r="1.75"/><circle cx="556.42" cy="122.05" r="1.75"/><circle cx="558.43" cy="121.51" r="1.75"/><circle cx="550.28" cy="123.14" r="1.75"/><circle cx="552.21" cy="123.32" r="1.75"/><circle cx="554.54" cy="123.18" r="1.75"/><circle cx="556.51" cy="123.63" r="1.75"/><circle cx="558.98" cy="123.49" r="1.75"/><circle cx="549.98" cy="124.78" r="1.75"/><circle cx="551.93" cy="124.71" r="1.75"/><circle cx="554.75" cy="125.12" r="1.75"/><circle cx="557.06" cy="124.71" r="1.75"/><circle cx="559.15" cy="124.99" r="1.75"/><circle cx="549.78" cy="126.9" r="1.75"/><circle cx="551.94" cy="126.63" r="1.75"/><circle cx="554.64" cy="126.84" r="1.75"/><circle cx="556.95" cy="126.72" r="1.75"/><circle cx="559.28" cy="126.85" r="1.75"/><circle cx="550.34" cy="128.44" r="1.75"/><circle cx="552.59" cy="128.15" r="1.75"/><circle cx="554.67" cy="128.42" r="1.75"/><circle cx="556.68" cy="128.27" r="1.75"/><circle cx="558.7" cy="128.25" r="1.75"/><circle cx="549.75" cy="129.88" r="1.75"/><circle cx="552.55" cy="130.03" r="1.75"/><circle cx="554.64" cy="129.73" r="1.75"/><circle cx="556.89" cy="129.85" r="1.75"/><circle cx="558.96" cy="130" r="1.75"/><circle cx="550.62" cy="131.12" r="1.75"/><circle cx="552.55" cy="131.39" r="1.75"/><circle cx="554.34" cy="131.52" r="1.75"/><circle cx="556.51" cy="131.47" r="1.75"/><circle cx="558.78" cy="131.25" r="1.75"/><circle cx="551.26" cy="133.11" r="1.75"/><circle cx="553.28" cy="132.8" r="1.75"/><circle cx="555.78" cy="133.1" r="1.75"/><circle cx="557.59" cy="133.24" r="1.75"/><circle cx="551.88" cy="134.42" r="1.75"/><circle cx="553.55" cy="134.78" r="1.75"/><circle cx="555.66" cy="134.83" r="1.75"/><circle cx="557.15" cy="134.65" r="1.75"/><circle cx="551.89" cy="136.2" r="1.75"/><circle cx="554.7" cy="136.41" r="1.75"/><circle cx="557.02" cy="136.47" r="1.75"/><circle cx="552.26" cy="137.77" r="1.75"/><circle cx="554.37" cy="137.63" r="1.75"/><circle cx="556.49" cy="137.88" r="1.75"/><circle cx="552.87" cy="139.6" r="1.75"/><circle cx="556.31" cy="139.37" r="1.75"/><circle cx="554.24" cy="141" r="1.75"/><circle cx="554.5" cy="142.9" r="1.75"/></g>
<g stroke="#d04848" stroke-width="0.95" fill="none"><rect x="566.3" y="108.3" width="10.4" height="22.9"/><line x1="566.3" y1="121.5" x2="576.7" y2="121.5"/><line x1="571.5" y1="108.3" x2="571.5" y2="104.4"/><line x1="571.5" y1="131.2" x2="571.5" y2="133.3"/><line x1="569.35" y1="104.4" x2="573.65" y2="104.4"/><line x1="569.35" y1="133.3" x2="573.65" y2="133.3"/></g>
<path d="M571.5 116.7L574.1 119.3L571.5 121.9L568.9 119.3Z" fill="#ff0000"/>
<g fill="#0808c0" stroke="#000070" stroke-width="0.35" stroke-opacity="0.6"><circle cx="593.98" cy="58" r="1.75"/><circle cx="594.09" cy="59.6" r="1.75"/><circle cx="594.1" cy="61.2" r="1.75"/><circle cx="593.79" cy="62.8" r="1.75"/><circle cx="593.92" cy="64.4" r="1.75"/><circle cx="593.59" cy="66.11" r="1.75"/><circle cx="594.66" cy="66.03" r="1.75"/><circle cx="592.44" cy="67.56" r="1.75"/><circle cx="595.14" cy="67.84" r="1.75"/><circle cx="592.99" cy="68.94" r="1.75"/><circle cx="595.32" cy="69.1" r="1.75"/><circle cx="592.27" cy="70.51" r="1.75"/><circle cx="593.74" cy="71.05" r="1.75"/><circle cx="595.94" cy="70.55" r="1.75"/><circle cx="591.36" cy="72.17" r="1.75"/><circle cx="592.98" cy="72.18" r="1.75"/><circle cx="594.86" cy="72.47" r="1.75"/><circle cx="596.71" cy="72.52" r="1.75"/><circle cx="591.29" cy="74.19" r="1.75"/><circle cx="593.94" cy="73.95" r="1.75"/><circle cx="596.57" cy="73.99" r="1.75"/><circle cx="590.53" cy="75.74" r="1.75"/><circle cx="593.22" cy="75.89" r="1.75"/><circle cx="595.16" cy="75.51" r="1.75"/><circle cx="597.11" cy="75.71" r="1.75"/><circle cx="590.06" cy="77.04" r="1.75"/><circle cx="592.06" cy="77.21" r="1.75"/><circle cx="594.19" cy="77.2" r="1.75"/><circle cx="595.57" cy="77.39" r="1.75"/><circle cx="597.67" cy="77.21" r="1.75"/><circle cx="590.4" cy="78.73" r="1.75"/><circle cx="592.98" cy="78.56" r="1.75"/><circle cx="595.22" cy="78.61" r="1.75"/><circle cx="597.68" cy="78.52" r="1.75"/><circle cx="590.09" cy="80.48" r="1.75"/><circle cx="591.82" cy="80.38" r="1.75"/><circle cx="593.83" cy="80.27" r="1.75"/><circle cx="595.89" cy="80.68" r="1.75"/><circle cx="597.8" cy="80.67" r="1.75"/><circle cx="590.48" cy="81.92" r="1.75"/><circle cx="591.93" cy="82.15" r="1.75"/><circle cx="594.25" cy="81.7" r="1.75"/><circle cx="595.75" cy="82.16" r="1.75"/><circle cx="597.68" cy="81.84" r="1.75"/><circle cx="590.03" cy="83.67" r="1.75"/><circle cx="592.44" cy="83.9" r="1.75"/><circle cx="594" cy="83.31" r="1.75"/><circle cx="595.74" cy="83.77" r="1.75"/><circle cx="597.89" cy="83.68" r="1.75"/><circle cx="590.06" cy="85.19" r="1.75"/><circle cx="592.1" cy="85.06" r="1.75"/><circle cx="594.27" cy="85.44" r="1.75"/><circle cx="595.77" cy="85.07" r="1.75"/><circle cx="598.18" cy="85.07" r="1.75"/><circle cx="589.35" cy="86.92" r="1.75"/><circle cx="591.8" cy="86.63" r="1.75"/><circle cx="593.87" cy="86.65" r="1.75"/><circle cx="596.44" cy="86.92" r="1.75"/><circle cx="598.43" cy="87.03" r="1.75"/><circle cx="589.63" cy="88.36" r="1.75"/><circle cx="592.18" cy="88.44" r="1.75"/><circle cx="594.07" cy="88.65" r="1.75"/><circle cx="596.39" cy="88.56" r="1.75"/><circle cx="598.17" cy="88.45" r="1.75"/><circle cx="589.57" cy="90.05" r="1.75"/><circle cx="591.61" cy="89.92" r="1.75"/><circle cx="594.14" cy="90.04" r="1.75"/><circle cx="596.01" cy="90.13" r="1.75"/><circle cx="598.84" cy="90.18" r="1.75"/><circle cx="589.7" cy="91.62" r="1.75"/><circle cx="591.9" cy="91.53" r="1.75"/><circle cx="593.76" cy="91.51" r="1.75"/><circle cx="596.16" cy="91.86" r="1.75"/><circle cx="598.66" cy="91.62" r="1.75"/><circle cx="589.52" cy="93.22" r="1.75"/><circle cx="591.99" cy="93.14" r="1.75"/><circle cx="593.85" cy="93.14" r="1.75"/><circle cx="596.02" cy="93.31" r="1.75"/><circle cx="598.04" cy="92.95" r="1.75"/><circle cx="590.19" cy="94.96" r="1.75"/><circle cx="592.13" cy="95.06" r="1.75"/><circle cx="593.92" cy="94.52" r="1.75"/><circle cx="595.96" cy="94.77" r="1.75"/><circle cx="597.73" cy="94.9" r="1.75"/><circle cx="589.94" cy="96.3" r="1.75"/><circle cx="592.31" cy="96.1" r="1.75"/><circle cx="593.92" cy="96.27" r="1.75"/><circle cx="595.77" cy="96.36" r="1.75"/><circle cx="597.74" cy="96.65" r="1.75"/><circle cx="590.12" cy="97.8" r="1.75"/><circle cx="591.98" cy="98.06" r="1.75"/><circle cx="594.21" cy="97.85" r="1.75"/><circle cx="595.98" cy="98.21" r="1.75"/><circle cx="598.2" cy="97.84" r="1.75"/><circle cx="590.39" cy="99.54" r="1.75"/><circle cx="592.22" cy="99.7" r="1.75"/><circle cx="594.28" cy="99.63" r="1.75"/><circle cx="595.99" cy="99.51" r="1.75"/><circle cx="597.91" cy="99.49" r="1.75"/><circle cx="590.45" cy="101.08" r="1.75"/><circle cx="592.63" cy="101.04" r="1.75"/><circle cx="595.18" cy="101.05" r="1.75"/><circle cx="597.19" cy="101.38" r="1.75"/><circle cx="591.25" cy="102.86" r="1.75"/><circle cx="592.93" cy="103.02" r="1.75"/><circle cx="595.24" cy="102.69" r="1.75"/><circle cx="596.78" cy="102.88" r="1.75"/><circle cx="590.86" cy="104.57" r="1.75"/><circle cx="592.88" cy="104.47" r="1.75"/><circle cx="594.93" cy="104.34" r="1.75"/><circle cx="597.14" cy="104.33" r="1.75"/><circle cx="591.77" cy="105.8" r="1.75"/><circle cx="593.82" cy="105.85" r="1.75"/><circle cx="596.69" cy="106.01" r="1.75"/><circle cx="592.5" cy="107.82" r="1.75"/><circle cx="594.19" cy="107.52" r="1.75"/><circle cx="595.84" cy="107.48" r="1.75"/><circle cx="592.85" cy="109.4" r="1.75"/><circle cx="595.2" cy="109.43" r="1.75"/><circle cx="593.01" cy="110.51" r="1.75"/><circle cx="594.67" cy="110.6" r="1.75"/><circle cx="592.75" cy="112.21" r="1.75"/><circle cx="594.93" cy="112.29" r="1.75"/><circle cx="593.09" cy="113.76" r="1.75"/><circle cx="595.09" cy="114.02" r="1.75"/><circle cx="593.97" cy="115.6" r="1.75"/><circle cx="594.02" cy="117.2" r="1.75"/><circle cx="594" cy="31" r="1.75"/><circle cx="594" cy="43.1" r="1.75"/><circle cx="594" cy="48" r="1.75"/><circle cx="594" cy="52.3" r="1.75"/><circle cx="594" cy="55.5" r="1.75"/><circle cx="594" cy="119.2" r="1.75"/><circle cx="594" cy="127.3" r="1.75"/><circle cx="594" cy="142.4" r="1.75"/></g>
<g stroke="#3c3ca8" stroke-width="0.95" fill="none"><rect x="605.9" y="75" width="10.4" height="29.4"/><line x1="605.9" y1="91.3" x2="616.3" y2="91.3"/><line x1="611.1" y1="75" x2="611.1" y2="71.2"/><line x1="611.1" y1="104.4" x2="611.1" y2="106.2"/><line x1="608.95" y1="71.2" x2="613.25" y2="71.2"/><line x1="608.95" y1="106.2" x2="613.25" y2="106.2"/></g>
<path d="M611.1 87.1L613.7 89.7L611.1 92.3L608.5 89.7Z" fill="#0808c0"/>
<g fill="#00fc12" stroke="#12c012" stroke-width="0.35" stroke-opacity="0.6"><circle cx="633.66" cy="106.9" r="1.75"/><circle cx="633.91" cy="108.5" r="1.75"/><circle cx="633.91" cy="110.1" r="1.75"/><circle cx="634.01" cy="111.7" r="1.75"/><circle cx="633.61" cy="113.3" r="1.75"/><circle cx="633.64" cy="114.9" r="1.75"/><circle cx="633.59" cy="116.5" r="1.75"/><circle cx="633.64" cy="118.1" r="1.75"/><circle cx="633.94" cy="119.7" r="1.75"/><circle cx="633.04" cy="121.32" r="1.75"/><circle cx="634.17" cy="121.18" r="1.75"/><circle cx="633.3" cy="122.97" r="1.75"/><circle cx="634.21" cy="122.77" r="1.75"/><circle cx="633.35" cy="124.69" r="1.75"/><circle cx="634.66" cy="124.7" r="1.75"/><circle cx="632.63" cy="126.28" r="1.75"/><circle cx="635.09" cy="126.31" r="1.75"/><circle cx="632.48" cy="127.74" r="1.75"/><circle cx="635.23" cy="127.62" r="1.75"/><circle cx="632" cy="129.07" r="1.75"/><circle cx="633.99" cy="129.48" r="1.75"/><circle cx="635.78" cy="129.41" r="1.75"/><circle cx="631.88" cy="130.68" r="1.75"/><circle cx="633.91" cy="130.87" r="1.75"/><circle cx="635.67" cy="130.72" r="1.75"/><circle cx="631.33" cy="132.48" r="1.75"/><circle cx="633.86" cy="132.44" r="1.75"/><circle cx="635.9" cy="132.49" r="1.75"/><circle cx="631.26" cy="133.92" r="1.75"/><circle cx="633.72" cy="133.84" r="1.75"/><circle cx="636.27" cy="134.37" r="1.75"/><circle cx="631.09" cy="135.96" r="1.75"/><circle cx="632.58" cy="135.49" r="1.75"/><circle cx="634.93" cy="135.9" r="1.75"/><circle cx="636.72" cy="135.5" r="1.75"/><circle cx="630.8" cy="137.53" r="1.75"/><circle cx="632.91" cy="137.12" r="1.75"/><circle cx="635.08" cy="137.22" r="1.75"/><circle cx="637.15" cy="137.08" r="1.75"/><circle cx="629.64" cy="139.03" r="1.75"/><circle cx="631.52" cy="138.97" r="1.75"/><circle cx="633.85" cy="138.95" r="1.75"/><circle cx="635.83" cy="139.04" r="1.75"/><circle cx="637.93" cy="138.78" r="1.75"/><circle cx="629.91" cy="140.27" r="1.75"/><circle cx="631.64" cy="140.24" r="1.75"/><circle cx="633.89" cy="140.53" r="1.75"/><circle cx="635.83" cy="140.22" r="1.75"/><circle cx="637.76" cy="140.41" r="1.75"/><circle cx="629.57" cy="142.4" r="1.75"/><circle cx="631.61" cy="141.98" r="1.75"/><circle cx="633.66" cy="142.16" r="1.75"/><circle cx="635.51" cy="142.08" r="1.75"/><circle cx="637.65" cy="142.3" r="1.75"/><circle cx="629.85" cy="143.7" r="1.75"/><circle cx="632.15" cy="143.71" r="1.75"/><circle cx="633.78" cy="143.8" r="1.75"/><circle cx="635.61" cy="143.42" r="1.75"/><circle cx="637.66" cy="143.95" r="1.75"/><circle cx="629.14" cy="145.41" r="1.75"/><circle cx="631.75" cy="145.16" r="1.75"/><circle cx="633.85" cy="145.21" r="1.75"/><circle cx="635.9" cy="145.17" r="1.75"/><circle cx="638.14" cy="145.21" r="1.75"/><circle cx="629.85" cy="146.65" r="1.75"/><circle cx="632.01" cy="146.96" r="1.75"/><circle cx="633.5" cy="147.06" r="1.75"/><circle cx="635.56" cy="146.89" r="1.75"/><circle cx="637.72" cy="146.8" r="1.75"/><circle cx="629.65" cy="148.28" r="1.75"/><circle cx="631.96" cy="148.27" r="1.75"/><circle cx="633.99" cy="148.33" r="1.75"/><circle cx="635.74" cy="148.43" r="1.75"/><circle cx="637.63" cy="148.28" r="1.75"/><circle cx="629.63" cy="150.33" r="1.75"/><circle cx="632.03" cy="149.83" r="1.75"/><circle cx="633.82" cy="149.88" r="1.75"/><circle cx="636.05" cy="149.99" r="1.75"/><circle cx="638.17" cy="150.13" r="1.75"/><circle cx="630.28" cy="151.55" r="1.75"/><circle cx="632.95" cy="151.49" r="1.75"/><circle cx="634.86" cy="151.62" r="1.75"/><circle cx="636.93" cy="151.88" r="1.75"/><circle cx="631.32" cy="153.4" r="1.75"/><circle cx="634.06" cy="153.31" r="1.75"/><circle cx="636.67" cy="153.26" r="1.75"/><circle cx="631.61" cy="155.1" r="1.75"/><circle cx="634.04" cy="154.67" r="1.75"/><circle cx="635.84" cy="154.92" r="1.75"/><circle cx="632.03" cy="156.38" r="1.75"/><circle cx="634.08" cy="156.38" r="1.75"/><circle cx="635.35" cy="156.23" r="1.75"/><circle cx="633.39" cy="157.86" r="1.75"/><circle cx="634.48" cy="158.32" r="1.75"/><circle cx="634.1" cy="159.7" r="1.75"/><circle cx="633.99" cy="161.3" r="1.75"/></g>
<g stroke="#5ad85a" stroke-width="0.95" fill="none"><rect x="645.3" y="131.8" width="10.4" height="19.5"/><line x1="645.3" y1="143.3" x2="655.7" y2="143.3"/><line x1="650.5" y1="131.8" x2="650.5" y2="128.5"/><line x1="650.5" y1="151.3" x2="650.5" y2="152.3"/><line x1="648.35" y1="128.5" x2="652.65" y2="128.5"/><line x1="648.35" y1="152.3" x2="652.65" y2="152.3"/></g>
<path d="M650.5 138.9L653.1 141.5L650.5 144.1L647.9 141.5Z" fill="#00fc12"/>
<line x1="539.2" y1="237.4" x2="539.2" y2="375.3" stroke="#2a2a2a" stroke-width="1" />
<line x1="534.2" y1="375.3" x2="539.2" y2="375.3" stroke="#2a2a2a" stroke-width="1" />
<text x="530.3" y="380.2" font-size="12" text-anchor="end" fill="#000" >0</text>
<line x1="534.2" y1="340.82" x2="539.2" y2="340.82" stroke="#2a2a2a" stroke-width="1" />
<text x="530.3" y="345.72" font-size="12" text-anchor="end" fill="#000" >50</text>
<line x1="534.2" y1="306.35" x2="539.2" y2="306.35" stroke="#2a2a2a" stroke-width="1" />
<text x="530.3" y="311.25" font-size="12" text-anchor="end" fill="#000" >100</text>
<line x1="534.2" y1="271.88" x2="539.2" y2="271.88" stroke="#2a2a2a" stroke-width="1" />
<text x="530.3" y="276.77" font-size="12" text-anchor="end" fill="#000" >150</text>
<line x1="534.2" y1="237.4" x2="539.2" y2="237.4" stroke="#2a2a2a" stroke-width="1" />
<text x="530.3" y="242.3" font-size="12" text-anchor="end" fill="#000" >200</text>
<line x1="536.2" y1="358.06" x2="539.2" y2="358.06" stroke="#2a2a2a" stroke-width="1" />
<line x1="536.2" y1="323.59" x2="539.2" y2="323.59" stroke="#2a2a2a" stroke-width="1" />
<line x1="536.2" y1="289.11" x2="539.2" y2="289.11" stroke="#2a2a2a" stroke-width="1" />
<line x1="536.2" y1="254.64" x2="539.2" y2="254.64" stroke="#2a2a2a" stroke-width="1" />
<line x1="539.2" y1="375.3" x2="654.6" y2="375.3" stroke="#2a2a2a" stroke-width="1" />
<line x1="562.9" y1="375.3" x2="562.9" y2="379.5" stroke="#2a2a2a" stroke-width="1" />
<text x="562.9" y="393.6" font-size="12.5" text-anchor="middle" fill="#000" >Reg</text>
<line x1="602.4" y1="375.3" x2="602.4" y2="379.5" stroke="#2a2a2a" stroke-width="1" />
<text x="602.4" y="393.6" font-size="12.5" text-anchor="middle" fill="#000" >Del</text>
<line x1="642.6" y1="375.3" x2="642.6" y2="379.5" stroke="#2a2a2a" stroke-width="1" />
<text x="642.6" y="393.6" font-size="12.5" text-anchor="middle" fill="#000" >Stu</text>
<text transform="translate(504,305.8) rotate(-90)" font-size="13.4" text-anchor="middle">Rheobase [pA]</text>
<g fill="#ff0000" stroke="#c00000" stroke-width="0.35" stroke-opacity="0.6"><circle cx="552.02" cy="319.38" r="1.75"/><circle cx="554.39" cy="319.13" r="1.75"/><circle cx="557.07" cy="319.48" r="1.75"/><circle cx="550.57" cy="320.74" r="1.75"/><circle cx="552.19" cy="320.82" r="1.75"/><circle cx="554.45" cy="320.64" r="1.75"/><circle cx="556.49" cy="320.74" r="1.75"/><circle cx="558.07" cy="320.63" r="1.75"/><circle cx="549.9" cy="322.73" r="1.75"/><circle cx="552.15" cy="322.22" r="1.75"/><circle cx="554.3" cy="322.5" r="1.75"/><circle cx="556.49" cy="322.77" r="1.75"/><circle cx="558.97" cy="322.29" r="1.75"/><circle cx="549.69" cy="324.36" r="1.75"/><circle cx="552.13" cy="324.13" r="1.75"/><circle cx="554.31" cy="324.09" r="1.75"/><circle cx="556.46" cy="323.82" r="1.75"/><circle cx="559.11" cy="323.94" r="1.75"/><circle cx="549.77" cy="325.98" r="1.75"/><circle cx="552.41" cy="325.85" r="1.75"/><circle cx="554.56" cy="325.75" r="1.75"/><circle cx="556.76" cy="325.47" r="1.75"/><circle cx="558.84" cy="325.9" r="1.75"/><circle cx="550.72" cy="327.53" r="1.75"/><circle cx="552.38" cy="327.22" r="1.75"/><circle cx="554.37" cy="327.23" r="1.75"/><circle cx="556.66" cy="327.23" r="1.75"/><circle cx="558.05" cy="327.06" r="1.75"/><circle cx="550.3" cy="328.9" r="1.75"/><circle cx="552.2" cy="328.93" r="1.75"/><circle cx="554.55" cy="328.73" r="1.75"/><circle cx="556.66" cy="328.93" r="1.75"/><circle cx="558.87" cy="328.71" r="1.75"/><circle cx="550.41" cy="330.76" r="1.75"/><circle cx="552.36" cy="330.56" r="1.75"/><circle cx="554.28" cy="330.26" r="1.75"/><circle cx="556.09" cy="330.69" r="1.75"/><circle cx="558.47" cy="330.42" r="1.75"/><circle cx="550.14" cy="332.34" r="1.75"/><circle cx="552.49" cy="332.04" r="1.75"/><circle cx="554.69" cy="332.38" r="1.75"/><circle cx="556.64" cy="332.33" r="1.75"/><circle cx="558.76" cy="332.03" r="1.75"/><circle cx="550.65" cy="333.5" r="1.75"/><circle cx="552.16" cy="333.88" r="1.75"/><circle cx="554.56" cy="333.69" r="1.75"/><circle cx="556.59" cy="333.43" r="1.75"/><circle cx="558.23" cy="333.57" r="1.75"/><circle cx="550.07" cy="335.04" r="1.75"/><circle cx="552.24" cy="335.54" r="1.75"/><circle cx="554.69" cy="335.45" r="1.75"/><circle cx="556.45" cy="335.15" r="1.75"/><circle cx="558.8" cy="335.32" r="1.75"/><circle cx="549.71" cy="336.73" r="1.75"/><circle cx="552.4" cy="337.08" r="1.75"/><circle cx="554.63" cy="336.96" r="1.75"/><circle cx="556.56" cy="336.95" r="1.75"/><circle cx="559.02" cy="336.78" r="1.75"/><circle cx="550.03" cy="338.66" r="1.75"/><circle cx="551.99" cy="338.61" r="1.75"/><circle cx="554.67" cy="338.21" r="1.75"/><circle cx="556.57" cy="338.59" r="1.75"/><circle cx="558.84" cy="338.55" r="1.75"/><circle cx="550.38" cy="340.38" r="1.75"/><circle cx="552.66" cy="339.88" r="1.75"/><circle cx="554.16" cy="339.86" r="1.75"/><circle cx="556.09" cy="340.07" r="1.75"/><circle cx="558.14" cy="340.32" r="1.75"/><circle cx="550.22" cy="341.72" r="1.75"/><circle cx="552.32" cy="341.7" r="1.75"/><circle cx="554.23" cy="341.5" r="1.75"/><circle cx="556.19" cy="341.63" r="1.75"/><circle cx="558.48" cy="341.73" r="1.75"/><circle cx="551.48" cy="343.52" r="1.75"/><circle cx="553.55" cy="343.47" r="1.75"/><circle cx="555.12" cy="343.28" r="1.75"/><circle cx="557.19" cy="343.46" r="1.75"/><circle cx="551.85" cy="344.75" r="1.75"/><circle cx="553.63" cy="344.79" r="1.75"/><circle cx="555.02" cy="344.83" r="1.75"/><circle cx="556.96" cy="345.14" r="1.75"/><circle cx="552.21" cy="346.53" r="1.75"/><circle cx="554.67" cy="346.26" r="1.75"/><circle cx="556.65" cy="346.5" r="1.75"/><circle cx="552.76" cy="347.99" r="1.75"/><circle cx="554.52" cy="348.12" r="1.75"/><circle cx="556.36" cy="347.84" r="1.75"/><circle cx="553.46" cy="349.61" r="1.75"/><circle cx="555.52" cy="350" r="1.75"/><circle cx="554.16" cy="351.3" r="1.75"/></g>
<g stroke="#d04848" stroke-width="0.95" fill="none"><rect x="566.1" y="328.6" width="10.4" height="13.4"/><line x1="566.1" y1="336.2" x2="576.5" y2="336.2"/><line x1="571.3" y1="328.6" x2="571.3" y2="326"/><line x1="571.3" y1="342" x2="571.3" y2="344.3"/><line x1="569.15" y1="326" x2="573.45" y2="326"/><line x1="569.15" y1="344.3" x2="573.45" y2="344.3"/></g>
<path d="M571.3 332.9L573.9 335.5L571.3 338.1L568.7 335.5Z" fill="#ff0000"/>
<g fill="#0808c0" stroke="#000070" stroke-width="0.35" stroke-opacity="0.6"><circle cx="594.17" cy="315" r="1.75"/><circle cx="593.68" cy="316.6" r="1.75"/><circle cx="592.93" cy="318.01" r="1.75"/><circle cx="594.94" cy="318.29" r="1.75"/><circle cx="591.05" cy="319.64" r="1.75"/><circle cx="593.15" cy="319.69" r="1.75"/><circle cx="594.99" cy="320.06" r="1.75"/><circle cx="597.09" cy="320.05" r="1.75"/><circle cx="589.14" cy="321.63" r="1.75"/><circle cx="591.71" cy="321.29" r="1.75"/><circle cx="593.71" cy="321.61" r="1.75"/><circle cx="596.19" cy="321.66" r="1.75"/><circle cx="598.55" cy="321.68" r="1.75"/><circle cx="589.66" cy="323.07" r="1.75"/><circle cx="591.58" cy="323.27" r="1.75"/><circle cx="593.79" cy="323.17" r="1.75"/><circle cx="596.35" cy="323.09" r="1.75"/><circle cx="598.05" cy="323.2" r="1.75"/><circle cx="589.26" cy="324.33" r="1.75"/><circle cx="591.69" cy="324.32" r="1.75"/><circle cx="594.16" cy="324.6" r="1.75"/><circle cx="596.14" cy="324.55" r="1.75"/><circle cx="598.45" cy="324.85" r="1.75"/><circle cx="589.7" cy="326.25" r="1.75"/><circle cx="591.72" cy="326.26" r="1.75"/><circle cx="593.93" cy="326.16" r="1.75"/><circle cx="596.07" cy="326.22" r="1.75"/><circle cx="597.78" cy="326.5" r="1.75"/><circle cx="589.69" cy="327.74" r="1.75"/><circle cx="592.07" cy="328.07" r="1.75"/><circle cx="593.91" cy="327.74" r="1.75"/><circle cx="595.74" cy="328.04" r="1.75"/><circle cx="597.87" cy="327.83" r="1.75"/><circle cx="589.63" cy="329.31" r="1.75"/><circle cx="591.63" cy="329.12" r="1.75"/><circle cx="593.92" cy="329.58" r="1.75"/><circle cx="596.07" cy="329.22" r="1.75"/><circle cx="598.18" cy="329.13" r="1.75"/><circle cx="589.88" cy="331.25" r="1.75"/><circle cx="591.77" cy="331.21" r="1.75"/><circle cx="593.9" cy="331.01" r="1.75"/><circle cx="596.06" cy="331.29" r="1.75"/><circle cx="598.27" cy="330.98" r="1.75"/><circle cx="589.48" cy="332.51" r="1.75"/><circle cx="591.82" cy="332.79" r="1.75"/><circle cx="593.97" cy="332.87" r="1.75"/><circle cx="595.86" cy="332.6" r="1.75"/><circle cx="598.49" cy="332.5" r="1.75"/><circle cx="590.01" cy="334.16" r="1.75"/><circle cx="591.76" cy="333.93" r="1.75"/><circle cx="594.18" cy="334.11" r="1.75"/><circle cx="595.67" cy="334.03" r="1.75"/><circle cx="597.76" cy="334.42" r="1.75"/><circle cx="590.1" cy="335.56" r="1.75"/><circle cx="592.66" cy="335.62" r="1.75"/><circle cx="595.03" cy="335.94" r="1.75"/><circle cx="597.82" cy="336" r="1.75"/><circle cx="590.98" cy="337.61" r="1.75"/><circle cx="592.67" cy="337.22" r="1.75"/><circle cx="594.84" cy="337.33" r="1.75"/><circle cx="596.89" cy="337.53" r="1.75"/><circle cx="590.9" cy="338.84" r="1.75"/><circle cx="592.81" cy="338.74" r="1.75"/><circle cx="594.95" cy="338.79" r="1.75"/><circle cx="596.99" cy="339.09" r="1.75"/><circle cx="591.6" cy="340.66" r="1.75"/><circle cx="593.63" cy="340.59" r="1.75"/><circle cx="595.92" cy="340.76" r="1.75"/><circle cx="591.91" cy="342.49" r="1.75"/><circle cx="594.11" cy="342.04" r="1.75"/><circle cx="595.99" cy="341.98" r="1.75"/><circle cx="591.92" cy="343.99" r="1.75"/><circle cx="593.61" cy="343.73" r="1.75"/><circle cx="596.18" cy="343.61" r="1.75"/><circle cx="591.82" cy="345.43" r="1.75"/><circle cx="593.82" cy="345.61" r="1.75"/><circle cx="596.22" cy="345.21" r="1.75"/><circle cx="592.5" cy="347.2" r="1.75"/><circle cx="595.11" cy="347.12" r="1.75"/><circle cx="593.23" cy="348.41" r="1.75"/><circle cx="594.8" cy="348.82" r="1.75"/></g>
<g stroke="#3c3ca8" stroke-width="0.95" fill="none"><rect x="605.9" y="324.5" width="10.4" height="13.2"/><line x1="605.9" y1="330.3" x2="616.3" y2="330.3"/><line x1="611.1" y1="324.5" x2="611.1" y2="322.5"/><line x1="611.1" y1="337.7" x2="611.1" y2="340.5"/><line x1="608.95" y1="322.5" x2="613.25" y2="322.5"/><line x1="608.95" y1="340.5" x2="613.25" y2="340.5"/></g>
<path d="M611.1 328.7L613.7 331.3L611.1 333.9L608.5 331.3Z" fill="#0808c0"/>
<g fill="#00fc12" stroke="#12c012" stroke-width="0.35" stroke-opacity="0.6"><circle cx="633.75" cy="248.8" r="1.75"/><circle cx="633.77" cy="250.7" r="1.75"/><circle cx="633.74" cy="252.6" r="1.75"/><circle cx="633.25" cy="254.5" r="1.75"/><circle cx="632.65" cy="256.43" r="1.75"/><circle cx="633.9" cy="256.09" r="1.75"/><circle cx="632.33" cy="258.26" r="1.75"/><circle cx="633.91" cy="257.89" r="1.75"/><circle cx="632.04" cy="260.21" r="1.75"/><circle cx="635.12" cy="260.06" r="1.75"/><circle cx="632.72" cy="262.19" r="1.75"/><circle cx="634.72" cy="262.22" r="1.75"/><circle cx="631.21" cy="264.26" r="1.75"/><circle cx="633.37" cy="264.07" r="1.75"/><circle cx="635.81" cy="263.81" r="1.75"/><circle cx="631.85" cy="266.12" r="1.75"/><circle cx="633.59" cy="265.85" r="1.75"/><circle cx="635.27" cy="265.58" r="1.75"/><circle cx="631.34" cy="268.12" r="1.75"/><circle cx="633.2" cy="267.41" r="1.75"/><circle cx="635.08" cy="267.34" r="1.75"/><circle cx="631.38" cy="270.02" r="1.75"/><circle cx="633.33" cy="269.57" r="1.75"/><circle cx="635.49" cy="269.5" r="1.75"/><circle cx="630.79" cy="271.36" r="1.75"/><circle cx="632.19" cy="271.88" r="1.75"/><circle cx="634.63" cy="271.93" r="1.75"/><circle cx="636" cy="271.65" r="1.75"/><circle cx="630.59" cy="273.95" r="1.75"/><circle cx="632.17" cy="273.98" r="1.75"/><circle cx="634.06" cy="273.42" r="1.75"/><circle cx="636.02" cy="273.81" r="1.75"/><circle cx="631.07" cy="275.7" r="1.75"/><circle cx="632.98" cy="275.44" r="1.75"/><circle cx="634.95" cy="275.65" r="1.75"/><circle cx="636.25" cy="275.87" r="1.75"/><circle cx="630.46" cy="276.88" r="1.75"/><circle cx="632.56" cy="277" r="1.75"/><circle cx="634.84" cy="277.75" r="1.75"/><circle cx="635.95" cy="276.9" r="1.75"/><circle cx="630.19" cy="279.24" r="1.75"/><circle cx="632.82" cy="278.95" r="1.75"/><circle cx="634.41" cy="279.6" r="1.75"/><circle cx="636.42" cy="279.04" r="1.75"/><circle cx="630.35" cy="281.5" r="1.75"/><circle cx="632.53" cy="281.01" r="1.75"/><circle cx="634.85" cy="281.43" r="1.75"/><circle cx="637.1" cy="280.84" r="1.75"/><circle cx="630.29" cy="283.27" r="1.75"/><circle cx="632.52" cy="283.05" r="1.75"/><circle cx="634.87" cy="282.61" r="1.75"/><circle cx="636.75" cy="282.83" r="1.75"/><circle cx="630.29" cy="284.65" r="1.75"/><circle cx="632.77" cy="284.48" r="1.75"/><circle cx="634.74" cy="284.94" r="1.75"/><circle cx="636.78" cy="284.96" r="1.75"/><circle cx="629.8" cy="287.02" r="1.75"/><circle cx="631.79" cy="286.68" r="1.75"/><circle cx="635" cy="286.44" r="1.75"/><circle cx="637.52" cy="286.5" r="1.75"/><circle cx="629.14" cy="288.65" r="1.75"/><circle cx="631.41" cy="288.28" r="1.75"/><circle cx="633.7" cy="288.68" r="1.75"/><circle cx="635.71" cy="288.74" r="1.75"/><circle cx="637.59" cy="288.73" r="1.75"/><circle cx="630.08" cy="290.19" r="1.75"/><circle cx="631.97" cy="290.96" r="1.75"/><circle cx="633.5" cy="290.88" r="1.75"/><circle cx="635.58" cy="290.71" r="1.75"/><circle cx="637.11" cy="290.42" r="1.75"/><circle cx="629.44" cy="292.96" r="1.75"/><circle cx="631.41" cy="292.39" r="1.75"/><circle cx="633.42" cy="292.82" r="1.75"/><circle cx="635.41" cy="292.55" r="1.75"/><circle cx="637.12" cy="292.28" r="1.75"/><circle cx="629.59" cy="294.16" r="1.75"/><circle cx="632.64" cy="294.4" r="1.75"/><circle cx="634.32" cy="294.36" r="1.75"/><circle cx="636.75" cy="294.47" r="1.75"/><circle cx="629.91" cy="296.06" r="1.75"/><circle cx="631.88" cy="296.05" r="1.75"/><circle cx="633.98" cy="296.43" r="1.75"/><circle cx="635.02" cy="296.61" r="1.75"/><circle cx="637.22" cy="296.16" r="1.75"/><circle cx="630.16" cy="297.79" r="1.75"/><circle cx="631.9" cy="298.1" r="1.75"/><circle cx="633.68" cy="297.99" r="1.75"/><circle cx="634.92" cy="298.62" r="1.75"/><circle cx="637.34" cy="297.87" r="1.75"/><circle cx="629.48" cy="299.78" r="1.75"/><circle cx="630.8" cy="300.21" r="1.75"/><circle cx="633.14" cy="300.33" r="1.75"/><circle cx="635.68" cy="300.31" r="1.75"/><circle cx="638" cy="300.37" r="1.75"/><circle cx="629.31" cy="302.09" r="1.75"/><circle cx="631.18" cy="301.63" r="1.75"/><circle cx="633.09" cy="302.36" r="1.75"/><circle cx="635.35" cy="301.93" r="1.75"/><circle cx="637.61" cy="302.12" r="1.75"/><circle cx="629.83" cy="303.84" r="1.75"/><circle cx="631.35" cy="304.05" r="1.75"/><circle cx="633.74" cy="304.33" r="1.75"/><circle cx="635.33" cy="304.29" r="1.75"/><circle cx="638.01" cy="304.38" r="1.75"/><circle cx="629.71" cy="306.07" r="1.75"/><circle cx="632.61" cy="305.34" r="1.75"/><circle cx="634.62" cy="306.02" r="1.75"/><circle cx="637.42" cy="305.84" r="1.75"/><circle cx="629.67" cy="307.26" r="1.75"/><circle cx="631.45" cy="307.63" r="1.75"/><circle cx="633.82" cy="307.79" r="1.75"/><circle cx="635.28" cy="307.45" r="1.75"/><circle cx="637.05" cy="307.87" r="1.75"/><circle cx="629.22" cy="309.92" r="1.75"/><circle cx="631.6" cy="310.07" r="1.75"/><circle cx="633.54" cy="309.72" r="1.75"/><circle cx="635.4" cy="309.71" r="1.75"/><circle cx="637.87" cy="310.08" r="1.75"/><circle cx="629.29" cy="311.06" r="1.75"/><circle cx="631.77" cy="311.39" r="1.75"/><circle cx="633.38" cy="311.06" r="1.75"/><circle cx="635.11" cy="311.39" r="1.75"/><circle cx="638.12" cy="311.74" r="1.75"/><circle cx="629.54" cy="313.17" r="1.75"/><circle cx="631.1" cy="313.5" r="1.75"/><circle cx="633.06" cy="313.49" r="1.75"/><circle cx="635.58" cy="313.44" r="1.75"/><circle cx="637.25" cy="312.97" r="1.75"/><circle cx="629.5" cy="315.44" r="1.75"/><circle cx="632.09" cy="315.42" r="1.75"/><circle cx="634.97" cy="315.41" r="1.75"/><circle cx="637.18" cy="315" r="1.75"/><circle cx="630.72" cy="316.97" r="1.75"/><circle cx="632.2" cy="317.19" r="1.75"/><circle cx="634.63" cy="317.49" r="1.75"/><circle cx="636.56" cy="317.66" r="1.75"/><circle cx="631.09" cy="319.17" r="1.75"/><circle cx="633" cy="318.75" r="1.75"/><circle cx="634.59" cy="319.55" r="1.75"/><circle cx="636.37" cy="318.71" r="1.75"/><circle cx="630.67" cy="320.61" r="1.75"/><circle cx="632.73" cy="320.58" r="1.75"/><circle cx="634.18" cy="321.3" r="1.75"/><circle cx="637.02" cy="321.46" r="1.75"/><circle cx="630.62" cy="322.67" r="1.75"/><circle cx="632.61" cy="323.39" r="1.75"/><circle cx="634.61" cy="323.28" r="1.75"/><circle cx="636.08" cy="323.13" r="1.75"/><circle cx="630.25" cy="325.12" r="1.75"/><circle cx="632.23" cy="324.52" r="1.75"/><circle cx="634" cy="324.96" r="1.75"/><circle cx="635.97" cy="325.28" r="1.75"/><circle cx="631.8" cy="326.96" r="1.75"/><circle cx="633.57" cy="326.77" r="1.75"/><circle cx="635.81" cy="326.84" r="1.75"/><circle cx="631.81" cy="328.45" r="1.75"/><circle cx="633.58" cy="328.61" r="1.75"/><circle cx="635.89" cy="328.51" r="1.75"/><circle cx="630.63" cy="330.33" r="1.75"/><circle cx="633.67" cy="330.61" r="1.75"/><circle cx="636.29" cy="330.21" r="1.75"/><circle cx="631.62" cy="332.04" r="1.75"/><circle cx="633.14" cy="332.48" r="1.75"/><circle cx="636.15" cy="332.51" r="1.75"/><circle cx="631.91" cy="334.61" r="1.75"/><circle cx="633.52" cy="334.34" r="1.75"/><circle cx="635.19" cy="334.73" r="1.75"/><circle cx="632.14" cy="335.97" r="1.75"/><circle cx="633.6" cy="336.52" r="1.75"/><circle cx="635.41" cy="336.65" r="1.75"/><circle cx="631.56" cy="338.11" r="1.75"/><circle cx="634.92" cy="337.81" r="1.75"/><circle cx="632.95" cy="340.27" r="1.75"/><circle cx="634.13" cy="339.75" r="1.75"/><circle cx="633.14" cy="341.86" r="1.75"/><circle cx="633.91" cy="341.95" r="1.75"/><circle cx="633.22" cy="343.8" r="1.75"/><circle cx="633.03" cy="346.19" r="1.75"/><circle cx="634.33" cy="345.94" r="1.75"/><circle cx="633.29" cy="347.6" r="1.75"/><circle cx="633.54" cy="349.5" r="1.75"/><circle cx="633.58" cy="351.4" r="1.75"/><circle cx="633.66" cy="353.3" r="1.75"/><circle cx="633.5" cy="236.3" r="1.75"/><circle cx="633.5" cy="239.8" r="1.75"/><circle cx="633.8" cy="243.5" r="1.75"/></g>
<g stroke="#5ad85a" stroke-width="0.95" fill="none"><rect x="645.3" y="274" width="10.4" height="50.2"/><line x1="645.3" y1="301.6" x2="655.7" y2="301.6"/><line x1="650.5" y1="274" x2="650.5" y2="266.5"/><line x1="650.5" y1="324.2" x2="650.5" y2="331"/><line x1="648.35" y1="266.5" x2="652.65" y2="266.5"/><line x1="648.35" y1="331" x2="652.65" y2="331"/></g>
<path d="M650.5 296.6L653.1 299.2L650.5 301.8L647.9 299.2Z" fill="#00fc12"/>
<line x1="539.2" y1="444.1" x2="539.2" y2="582.2" stroke="#2a2a2a" stroke-width="1" />
<line x1="534.2" y1="444.1" x2="539.2" y2="444.1" stroke="#2a2a2a" stroke-width="1" />
<text x="530.3" y="449" font-size="12" text-anchor="end" fill="#000" >0</text>
<line x1="534.2" y1="506.62" x2="539.2" y2="506.62" stroke="#2a2a2a" stroke-width="1" />
<text x="530.3" y="511.52" font-size="12" text-anchor="end" fill="#000" >-50</text>
<line x1="534.2" y1="569.15" x2="539.2" y2="569.15" stroke="#2a2a2a" stroke-width="1" />
<text x="530.3" y="574.05" font-size="12" text-anchor="end" fill="#000" >-100</text>
<line x1="536.2" y1="456.61" x2="539.2" y2="456.61" stroke="#2a2a2a" stroke-width="1" />
<line x1="536.2" y1="469.11" x2="539.2" y2="469.11" stroke="#2a2a2a" stroke-width="1" />
<line x1="536.2" y1="481.62" x2="539.2" y2="481.62" stroke="#2a2a2a" stroke-width="1" />
<line x1="536.2" y1="494.12" x2="539.2" y2="494.12" stroke="#2a2a2a" stroke-width="1" />
<line x1="536.2" y1="519.13" x2="539.2" y2="519.13" stroke="#2a2a2a" stroke-width="1" />
<line x1="536.2" y1="531.63" x2="539.2" y2="531.63" stroke="#2a2a2a" stroke-width="1" />
<line x1="536.2" y1="544.14" x2="539.2" y2="544.14" stroke="#2a2a2a" stroke-width="1" />
<line x1="536.2" y1="556.64" x2="539.2" y2="556.64" stroke="#2a2a2a" stroke-width="1" />
<line x1="539.2" y1="582.2" x2="654.6" y2="582.2" stroke="#2a2a2a" stroke-width="1" />
<line x1="562.9" y1="582.2" x2="562.9" y2="586.4" stroke="#2a2a2a" stroke-width="1" />
<text x="562.9" y="600.6" font-size="12.5" text-anchor="middle" fill="#000" >Reg</text>
<line x1="602.4" y1="582.2" x2="602.4" y2="586.4" stroke="#2a2a2a" stroke-width="1" />
<text x="602.4" y="600.6" font-size="12.5" text-anchor="middle" fill="#000" >Del</text>
<line x1="642.6" y1="582.2" x2="642.6" y2="586.4" stroke="#2a2a2a" stroke-width="1" />
<text x="642.6" y="600.6" font-size="12.5" text-anchor="middle" fill="#000" >Stu</text>
<text transform="translate(498.8,513) rotate(-90)" font-size="13" text-anchor="middle">ΔADP<tspan font-size="9.5" dy="3.5">0</tspan><tspan dy="-3.5"> [mV/nA]</tspan></text>
<g fill="#ff0000" stroke="#c00000" stroke-width="0.35" stroke-opacity="0.6"><circle cx="554.31" cy="472" r="1.75"/><circle cx="554.37" cy="473.6" r="1.75"/><circle cx="553.92" cy="474.98" r="1.75"/><circle cx="555.16" cy="475.04" r="1.75"/><circle cx="552.59" cy="476.94" r="1.75"/><circle cx="554.7" cy="476.58" r="1.75"/><circle cx="556.42" cy="476.77" r="1.75"/><circle cx="552.73" cy="478.16" r="1.75"/><circle cx="554.31" cy="478.66" r="1.75"/><circle cx="556.71" cy="478.22" r="1.75"/><circle cx="551.72" cy="480.27" r="1.75"/><circle cx="553.49" cy="479.83" r="1.75"/><circle cx="555.58" cy="480.03" r="1.75"/><circle cx="557.67" cy="480.2" r="1.75"/><circle cx="550.88" cy="481.8" r="1.75"/><circle cx="553.71" cy="481.32" r="1.75"/><circle cx="555.92" cy="481.82" r="1.75"/><circle cx="558.23" cy="481.43" r="1.75"/><circle cx="550.17" cy="483.02" r="1.75"/><circle cx="552.4" cy="483.03" r="1.75"/><circle cx="554.32" cy="483.1" r="1.75"/><circle cx="556.78" cy="483.14" r="1.75"/><circle cx="559.25" cy="483.4" r="1.75"/><circle cx="550.17" cy="485.1" r="1.75"/><circle cx="552.42" cy="484.68" r="1.75"/><circle cx="554.41" cy="484.87" r="1.75"/><circle cx="556.99" cy="484.9" r="1.75"/><circle cx="559.07" cy="484.62" r="1.75"/><circle cx="549.98" cy="486.52" r="1.75"/><circle cx="552.02" cy="486.34" r="1.75"/><circle cx="554.85" cy="486.49" r="1.75"/><circle cx="557.23" cy="486.22" r="1.75"/><circle cx="559.25" cy="486.58" r="1.75"/><circle cx="550.52" cy="488.04" r="1.75"/><circle cx="552.25" cy="487.76" r="1.75"/><circle cx="554.89" cy="487.77" r="1.75"/><circle cx="556.54" cy="487.9" r="1.75"/><circle cx="558.98" cy="488.21" r="1.75"/><circle cx="550.32" cy="489.77" r="1.75"/><circle cx="552.33" cy="489.52" r="1.75"/><circle cx="554.67" cy="489.68" r="1.75"/><circle cx="556.46" cy="489.37" r="1.75"/><circle cx="558.66" cy="489.74" r="1.75"/><circle cx="550.41" cy="491.36" r="1.75"/><circle cx="552.22" cy="491.36" r="1.75"/><circle cx="554.89" cy="491.11" r="1.75"/><circle cx="556.54" cy="491.13" r="1.75"/><circle cx="558.94" cy="491.01" r="1.75"/><circle cx="550.48" cy="493.02" r="1.75"/><circle cx="552.38" cy="492.87" r="1.75"/><circle cx="554.42" cy="492.62" r="1.75"/><circle cx="556.74" cy="492.68" r="1.75"/><circle cx="558.3" cy="492.77" r="1.75"/><circle cx="550.14" cy="494.62" r="1.75"/><circle cx="552.3" cy="494.41" r="1.75"/><circle cx="554.73" cy="494.38" r="1.75"/><circle cx="556.97" cy="494.38" r="1.75"/><circle cx="558.86" cy="494.17" r="1.75"/><circle cx="550.19" cy="496.27" r="1.75"/><circle cx="552.44" cy="496.05" r="1.75"/><circle cx="554.4" cy="496.21" r="1.75"/><circle cx="556.65" cy="495.95" r="1.75"/><circle cx="558.94" cy="495.93" r="1.75"/><circle cx="550.43" cy="497.73" r="1.75"/><circle cx="552.56" cy="497.45" r="1.75"/><circle cx="554.77" cy="497.74" r="1.75"/><circle cx="556.86" cy="497.32" r="1.75"/><circle cx="558.8" cy="497.84" r="1.75"/><circle cx="550.65" cy="499.39" r="1.75"/><circle cx="552.63" cy="499.14" r="1.75"/><circle cx="554.79" cy="499.13" r="1.75"/><circle cx="556.3" cy="499.03" r="1.75"/><circle cx="558.28" cy="499.32" r="1.75"/><circle cx="551.31" cy="500.54" r="1.75"/><circle cx="553.3" cy="500.87" r="1.75"/><circle cx="555.74" cy="500.8" r="1.75"/><circle cx="558.31" cy="500.67" r="1.75"/><circle cx="551.45" cy="502.39" r="1.75"/><circle cx="553.52" cy="502.38" r="1.75"/><circle cx="555.26" cy="502.1" r="1.75"/><circle cx="557.4" cy="502.55" r="1.75"/><circle cx="552.27" cy="504.05" r="1.75"/><circle cx="554.54" cy="504.17" r="1.75"/><circle cx="557.02" cy="504.06" r="1.75"/><circle cx="551.94" cy="505.49" r="1.75"/><circle cx="553.46" cy="505.64" r="1.75"/><circle cx="555.31" cy="505.52" r="1.75"/><circle cx="557.31" cy="505.86" r="1.75"/><circle cx="552.46" cy="507.42" r="1.75"/><circle cx="554.49" cy="507.13" r="1.75"/><circle cx="556.85" cy="507.23" r="1.75"/><circle cx="553.09" cy="508.99" r="1.75"/><circle cx="555.9" cy="508.92" r="1.75"/><circle cx="553.75" cy="510.51" r="1.75"/><circle cx="555.61" cy="510.69" r="1.75"/><circle cx="552.73" cy="511.85" r="1.75"/><circle cx="554.6" cy="512.3" r="1.75"/><circle cx="555.99" cy="511.73" r="1.75"/><circle cx="553.34" cy="513.55" r="1.75"/><circle cx="555.61" cy="513.56" r="1.75"/><circle cx="553.65" cy="515.38" r="1.75"/><circle cx="555.23" cy="515.19" r="1.75"/><circle cx="553.82" cy="517.04" r="1.75"/><circle cx="555.69" cy="516.94" r="1.75"/><circle cx="553.72" cy="518.15" r="1.75"/><circle cx="555.5" cy="518.13" r="1.75"/><circle cx="554.03" cy="519.89" r="1.75"/><circle cx="555.35" cy="519.95" r="1.75"/><circle cx="553.64" cy="521.8" r="1.75"/><circle cx="555.39" cy="521.74" r="1.75"/><circle cx="554.01" cy="523.14" r="1.75"/><circle cx="555.35" cy="523.34" r="1.75"/><circle cx="554.85" cy="524.8" r="1.75"/><circle cx="554.6" cy="454.4" r="1.75"/><circle cx="554.6" cy="461.2" r="1.75"/><circle cx="554.6" cy="467.4" r="1.75"/><circle cx="554.6" cy="530.3" r="1.75"/><circle cx="554.6" cy="537" r="1.75"/><circle cx="554.6" cy="559.4" r="1.75"/><circle cx="554.8" cy="561" r="1.75"/><circle cx="554.6" cy="569.5" r="1.75"/><circle cx="554.8" cy="571.5" r="1.75"/><circle cx="554.6" cy="577.4" r="1.75"/></g>
<g stroke="#d04848" stroke-width="0.95" fill="none"><rect x="566.3" y="479.3" width="10.4" height="33.7"/><line x1="566.3" y1="493.4" x2="576.7" y2="493.4"/><line x1="571.5" y1="479.3" x2="571.5" y2="478.8"/><line x1="571.5" y1="513" x2="571.5" y2="515"/><line x1="569.35" y1="478.8" x2="573.65" y2="478.8"/><line x1="569.35" y1="515" x2="573.65" y2="515"/></g>
<path d="M571.5 494L574.1 496.6L571.5 499.2L568.9 496.6Z" fill="#ff0000"/>
<g fill="#0808c0" stroke="#000070" stroke-width="0.35" stroke-opacity="0.6"><circle cx="590.91" cy="443.68" r="1.75"/><circle cx="593.4" cy="443.8" r="1.75"/><circle cx="595.37" cy="443.56" r="1.75"/><circle cx="597.33" cy="444.01" r="1.75"/><circle cx="589.75" cy="445.63" r="1.75"/><circle cx="591.76" cy="445.1" r="1.75"/><circle cx="594.35" cy="445.18" r="1.75"/><circle cx="596.27" cy="445.54" r="1.75"/><circle cx="599.13" cy="445.6" r="1.75"/><circle cx="588.91" cy="446.75" r="1.75"/><circle cx="590.91" cy="447.29" r="1.75"/><circle cx="592.95" cy="446.8" r="1.75"/><circle cx="594.93" cy="446.73" r="1.75"/><circle cx="596.99" cy="446.91" r="1.75"/><circle cx="599.11" cy="446.89" r="1.75"/><circle cx="589.42" cy="448.79" r="1.75"/><circle cx="592.06" cy="448.64" r="1.75"/><circle cx="594.25" cy="448.76" r="1.75"/><circle cx="596.54" cy="448.44" r="1.75"/><circle cx="598.67" cy="448.45" r="1.75"/><circle cx="591.98" cy="450.16" r="1.75"/><circle cx="593.94" cy="450.19" r="1.75"/><circle cx="596.9" cy="450.17" r="1.75"/></g>
<g stroke="#3c3ca8" stroke-width="0.95" fill="none"><rect x="605.9" y="445.2" width="10.4" height="2.1"/><line x1="605.9" y1="446.2" x2="616.3" y2="446.2"/><line x1="611.1" y1="445.2" x2="611.1" y2="444.8"/><line x1="611.1" y1="447.3" x2="611.1" y2="447.7"/><line x1="609.6" y1="444.8" x2="612.6" y2="444.8"/><line x1="609.6" y1="447.7" x2="612.6" y2="447.7"/></g>
<path d="M611.1 443.6L613.7 446.2L611.1 448.8L608.5 446.2Z" fill="#0808c0"/>
<g fill="#00fc12" stroke="#12c012" stroke-width="0.35" stroke-opacity="0.6"><circle cx="633.74" cy="445.5" r="1.75"/><circle cx="633.16" cy="446.97" r="1.75"/><circle cx="634.52" cy="447.33" r="1.75"/><circle cx="632.41" cy="448.79" r="1.75"/><circle cx="634.87" cy="448.7" r="1.75"/><circle cx="632.43" cy="450.27" r="1.75"/><circle cx="635.25" cy="450.38" r="1.75"/><circle cx="632.77" cy="451.9" r="1.75"/><circle cx="634.24" cy="451.96" r="1.75"/><circle cx="631.44" cy="453.71" r="1.75"/><circle cx="633.96" cy="453.53" r="1.75"/><circle cx="636.02" cy="453.27" r="1.75"/><circle cx="631.32" cy="454.97" r="1.75"/><circle cx="632.64" cy="455.34" r="1.75"/><circle cx="634.74" cy="454.87" r="1.75"/><circle cx="636.26" cy="454.95" r="1.75"/><circle cx="629.42" cy="456.71" r="1.75"/><circle cx="631.59" cy="456.64" r="1.75"/><circle cx="633.51" cy="456.47" r="1.75"/><circle cx="635.41" cy="456.92" r="1.75"/><circle cx="637.83" cy="456.74" r="1.75"/><circle cx="629.43" cy="458.07" r="1.75"/><circle cx="631.56" cy="458.03" r="1.75"/><circle cx="633.57" cy="458.12" r="1.75"/><circle cx="635.55" cy="458.39" r="1.75"/><circle cx="637.74" cy="458.28" r="1.75"/><circle cx="629.45" cy="460.07" r="1.75"/><circle cx="631.45" cy="459.64" r="1.75"/><circle cx="633.69" cy="459.83" r="1.75"/><circle cx="636" cy="459.67" r="1.75"/><circle cx="638.2" cy="459.61" r="1.75"/><circle cx="629.23" cy="461.39" r="1.75"/><circle cx="631.71" cy="461.62" r="1.75"/><circle cx="633.5" cy="461.5" r="1.75"/><circle cx="635.99" cy="461.22" r="1.75"/><circle cx="637.89" cy="461.56" r="1.75"/><circle cx="629.07" cy="463.05" r="1.75"/><circle cx="631.4" cy="462.96" r="1.75"/><circle cx="633.93" cy="463.38" r="1.75"/><circle cx="635.99" cy="462.81" r="1.75"/><circle cx="638.24" cy="463.28" r="1.75"/><circle cx="629.22" cy="464.51" r="1.75"/><circle cx="631.71" cy="464.77" r="1.75"/><circle cx="633.57" cy="464.77" r="1.75"/><circle cx="635.98" cy="464.98" r="1.75"/><circle cx="638.14" cy="464.66" r="1.75"/><circle cx="629.28" cy="466.52" r="1.75"/><circle cx="631.51" cy="466.35" r="1.75"/><circle cx="633.71" cy="466.51" r="1.75"/><circle cx="636.11" cy="466.43" r="1.75"/><circle cx="638.22" cy="466.06" r="1.75"/><circle cx="629.56" cy="467.94" r="1.75"/><circle cx="631.42" cy="467.71" r="1.75"/><circle cx="633.97" cy="467.64" r="1.75"/><circle cx="636.05" cy="468.06" r="1.75"/><circle cx="637.94" cy="468.2" r="1.75"/><circle cx="630.27" cy="469.76" r="1.75"/><circle cx="632.6" cy="469.75" r="1.75"/><circle cx="634.93" cy="469.28" r="1.75"/><circle cx="636.56" cy="469.21" r="1.75"/><circle cx="631.56" cy="470.94" r="1.75"/><circle cx="633.47" cy="471.02" r="1.75"/><circle cx="636.19" cy="471.24" r="1.75"/><circle cx="632.23" cy="472.85" r="1.75"/><circle cx="633.9" cy="472.41" r="1.75"/><circle cx="635.15" cy="472.92" r="1.75"/><circle cx="632.35" cy="474.08" r="1.75"/><circle cx="634.84" cy="474.2" r="1.75"/><circle cx="632.74" cy="475.72" r="1.75"/><circle cx="634.38" cy="475.72" r="1.75"/></g>
<g stroke="#5ad85a" stroke-width="0.95" fill="none"><rect x="645.3" y="456.2" width="10.4" height="11.6"/><line x1="645.3" y1="462.3" x2="655.7" y2="462.3"/><line x1="650.5" y1="456.2" x2="650.5" y2="454.4"/><line x1="650.5" y1="467.8" x2="650.5" y2="469.2"/><line x1="648.35" y1="454.4" x2="652.65" y2="454.4"/><line x1="648.35" y1="469.2" x2="652.65" y2="469.2"/></g>
<path d="M650.5 459.7L653.1 462.3L650.5 464.9L647.9 462.3Z" fill="#00fc12"/>
</svg></body></html>
